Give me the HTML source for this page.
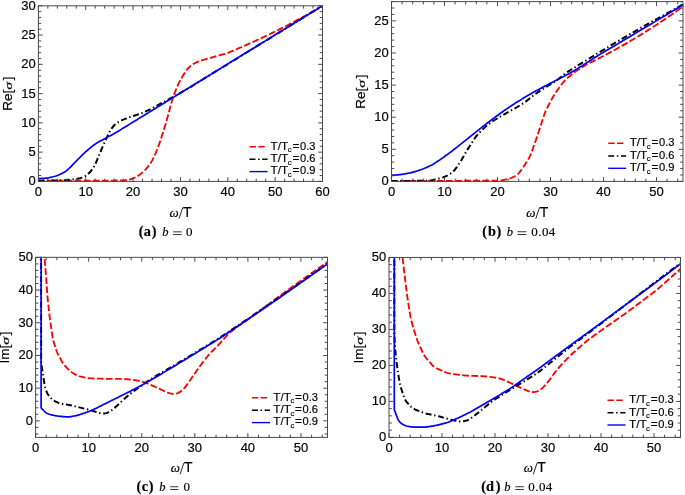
<!DOCTYPE html>
<html><head><meta charset="utf-8"><style>
html,body{margin:0;padding:0;background:#fff;}
body{width:685px;height:495px;overflow:hidden;font-family:"Liberation Sans",sans-serif;}
svg{display:block;will-change:transform;}
text{stroke:#000;stroke-width:0.18px;}
</style></head><body>
<svg width="685" height="495" viewBox="0 0 685 495">
<clipPath id="clipa"><rect x="37.90" y="5.30" width="285.10" height="176.60"/></clipPath>
<g clip-path="url(#clipa)" fill="none" stroke-linejoin="round">
<path d="M38.20 180.70L39.20 180.70L40.20 180.70L41.20 180.69L42.21 180.69L43.21 180.69L44.21 180.69L45.21 180.69L46.21 180.68L47.21 180.68L48.21 180.68L49.21 180.68L50.22 180.68L51.22 180.67L52.22 180.67L53.22 180.67L54.22 180.67L55.22 180.67L56.22 180.66L57.22 180.66L58.23 180.66L59.23 180.66L60.23 180.65L61.23 180.65L62.23 180.65L63.23 180.65L64.23 180.65L65.24 180.64L66.24 180.64L67.24 180.64L68.24 180.64L69.24 180.64L70.24 180.63L71.24 180.63L72.24 180.63L73.25 180.63L74.25 180.63L75.25 180.62L76.25 180.62L77.25 180.62L78.25 180.62L79.25 180.62L80.25 180.61L81.26 180.61L82.26 180.61L83.26 180.61L84.26 180.61L85.26 180.60L86.26 180.60L87.26 180.60L88.27 180.60L89.27 180.60L90.27 180.59L91.27 180.59L92.27 180.59L93.27 180.59L94.27 180.59L95.27 180.58L96.28 180.58L97.28 180.58L98.28 180.58L99.28 180.57L100.28 180.57L101.28 180.57L102.28 180.57L103.28 180.57L104.29 180.56L105.29 180.56L106.29 180.56L107.29 180.56L108.29 180.56L109.29 180.55L110.29 180.55L111.30 180.55L112.30 180.55L113.30 180.55L114.30 180.54L115.30 180.54L116.30 180.54L117.30 180.54L118.30 180.53L119.31 180.53L120.31 180.51L121.31 180.49L122.30 180.45L123.30 180.39L124.30 180.31L125.29 180.20L126.28 180.07L127.26 179.92L128.25 179.74L129.22 179.53L130.18 179.29L131.14 179.00L132.08 178.69L133.01 178.33L133.93 177.95L134.84 177.54L135.73 177.09L136.61 176.62L137.47 176.12L138.32 175.60L139.15 175.05L139.97 174.48L140.76 173.88L141.54 173.25L142.30 172.61L143.05 171.94L143.78 171.27L144.50 170.57L145.21 169.87L145.89 169.14L146.56 168.40L147.20 167.63L147.82 166.85L148.43 166.06L149.03 165.26L149.62 164.45L150.19 163.64L150.75 162.81L151.28 161.96L151.79 161.10L152.27 160.23L152.73 159.35L153.18 158.46L153.63 157.56L154.06 156.66L154.50 155.75L154.92 154.85L155.33 153.94L155.74 153.02L156.12 152.10L156.50 151.17L156.87 150.24L157.23 149.31L157.59 148.37L157.95 147.44L158.30 146.50L158.65 145.56L159.00 144.63L159.34 143.68L159.66 142.74L159.98 141.79L160.30 140.84L160.60 139.88L160.91 138.93L161.21 137.98L161.51 137.02L161.82 136.07L162.12 135.11L162.42 134.16L162.72 133.20L163.02 132.25L163.32 131.29L163.63 130.34L163.93 129.38L164.23 128.43L164.53 127.47L164.83 126.52L165.13 125.56L165.43 124.61L165.72 123.65L166.01 122.69L166.29 121.73L166.56 120.77L166.83 119.80L167.10 118.84L167.36 117.87L167.62 116.91L167.89 115.94L168.15 114.97L168.41 114.01L168.67 113.04L168.93 112.07L169.19 111.11L169.46 110.14L169.72 109.17L169.98 108.21L170.24 107.24L170.50 106.27L170.77 105.31L171.03 104.34L171.29 103.38L171.55 102.41L171.82 101.44L172.09 100.48L172.37 99.52L172.67 98.57L172.98 97.62L173.30 96.67L173.64 95.73L173.99 94.79L174.35 93.86L174.71 92.92L175.07 91.99L175.43 91.05L175.80 90.12L176.16 89.19L176.53 88.26L176.90 87.33L177.29 86.41L177.68 85.49L178.10 84.58L178.54 83.68L178.99 82.79L179.46 81.91L179.94 81.03L180.43 80.16L180.92 79.29L181.42 78.42L181.91 77.55L182.41 76.68L182.92 75.81L183.42 74.95L183.94 74.09L184.46 73.24L184.99 72.39L185.54 71.57L186.12 70.76L186.73 69.97L187.37 69.20L188.03 68.46L188.72 67.74L189.43 67.05L190.17 66.38L190.93 65.74L191.72 65.12L192.52 64.53L193.34 63.98L194.19 63.46L195.06 62.99L195.95 62.55L196.86 62.15L197.78 61.78L198.72 61.42L199.66 61.08L200.60 60.75L201.55 60.43L202.50 60.13L203.46 59.83L204.42 59.55L205.38 59.27L206.34 59.00L207.31 58.72L208.27 58.45L209.23 58.18L210.20 57.91L211.16 57.63L212.12 57.36L213.09 57.09L214.05 56.81L215.01 56.54L215.98 56.26L216.94 55.99L217.90 55.71L218.86 55.43L219.83 55.16L220.79 54.88L221.75 54.60L222.71 54.33L223.68 54.05L224.64 53.77L225.60 53.48L226.55 53.19L227.50 52.88L228.45 52.56L229.39 52.21L230.32 51.85L231.24 51.47L232.16 51.08L233.08 50.69L234.00 50.29L234.92 49.89L235.84 49.49L236.75 49.09L237.67 48.69L238.59 48.28L239.51 47.88L240.42 47.48L241.34 47.08L242.26 46.68L243.18 46.28L244.09 45.88L245.01 45.47L245.93 45.07L246.84 44.67L247.76 44.26L248.68 43.86L249.59 43.46L250.51 43.06L251.43 42.65L252.34 42.25L253.26 41.84L254.17 41.44L255.09 41.03L256.00 40.61L256.91 40.20L257.82 39.78L258.73 39.36L259.64 38.93L260.54 38.51L261.45 38.09L262.36 37.66L263.26 37.24L264.17 36.81L265.08 36.39L265.98 35.96L266.89 35.53L267.79 35.10L268.69 34.66L269.59 34.22L270.49 33.78L271.39 33.34L272.29 32.90L273.19 32.46L274.09 32.02L274.98 31.58L275.88 31.13L276.78 30.69L277.68 30.24L278.57 29.80L279.47 29.35L280.36 28.90L281.25 28.45L282.15 27.99L283.04 27.54L283.93 27.08L284.82 26.62L285.71 26.17L286.60 25.71L287.49 25.25L288.38 24.79L289.27 24.33L290.16 23.87L291.05 23.40L291.93 22.93L292.81 22.46L293.70 21.99L294.58 21.51L295.46 21.03L296.34 20.56L297.22 20.08L298.10 19.60L298.98 19.13L299.86 18.65L300.74 18.17L301.62 17.69L302.49 17.21L303.37 16.72L304.24 16.23L305.12 15.74L305.99 15.25L306.86 14.76L307.74 14.27L308.61 13.78L309.48 13.29L310.35 12.80L311.22 12.30L312.10 11.81L312.97 11.31L313.84 10.82L314.70 10.32L315.57 9.82L316.44 9.32L317.30 8.82L318.17 8.31L319.04 7.81L319.90 7.31L320.77 6.81L321.63 6.30L322.50 5.80" stroke="#f00" stroke-width="1.85" stroke-dasharray="6.7 2.4"/>
<path d="M38.20 180.70L39.20 180.68L40.20 180.67L41.20 180.65L42.20 180.63L43.20 180.62L44.21 180.60L45.21 180.59L46.21 180.57L47.21 180.55L48.21 180.54L49.21 180.52L50.21 180.50L51.21 180.49L52.21 180.47L53.21 180.45L54.21 180.44L55.21 180.42L56.22 180.40L57.22 180.39L58.22 180.37L59.22 180.36L60.22 180.34L61.22 180.32L62.22 180.30L63.22 180.28L64.22 180.25L65.22 180.20L66.22 180.15L67.21 180.07L68.21 179.97L69.20 179.86L70.20 179.74L71.19 179.61L72.18 179.48L73.17 179.35L74.16 179.21L75.15 179.07L76.14 178.93L77.13 178.77L78.11 178.60L79.09 178.40L80.05 178.16L81.01 177.89L81.95 177.58L82.88 177.24L83.79 176.84L84.67 176.41L85.52 175.91L86.33 175.36L87.12 174.77L87.87 174.13L88.60 173.45L89.31 172.76L89.99 172.03L90.65 171.28L91.29 170.52L91.90 169.73L92.49 168.93L93.07 168.11L93.61 167.28L94.13 166.43L94.62 165.57L95.07 164.68L95.49 163.78L95.89 162.86L96.28 161.94L96.66 161.02L97.04 160.09L97.41 159.16L97.79 158.24L98.17 157.31L98.55 156.38L98.92 155.46L99.31 154.53L99.69 153.61L100.08 152.68L100.47 151.76L100.87 150.84L101.27 149.93L101.67 149.01L102.08 148.10L102.49 147.18L102.89 146.27L103.30 145.35L103.71 144.44L104.12 143.53L104.53 142.61L104.94 141.70L105.35 140.79L105.76 139.88L106.18 138.96L106.59 138.05L107.01 137.14L107.42 136.23L107.84 135.32L108.27 134.42L108.70 133.52L109.15 132.63L109.62 131.74L110.11 130.88L110.63 130.02L111.17 129.19L111.73 128.36L112.31 127.56L112.92 126.77L113.56 126.02L114.24 125.31L114.96 124.63L115.71 124.00L116.50 123.40L117.31 122.82L118.14 122.27L118.99 121.75L119.85 121.25L120.73 120.79L121.63 120.36L122.54 119.95L123.46 119.57L124.39 119.19L125.32 118.83L126.25 118.46L127.18 118.10L128.12 117.75L129.06 117.40L130.00 117.06L130.94 116.73L131.89 116.41L132.84 116.09L133.79 115.79L134.75 115.48L135.70 115.18L136.65 114.88L137.60 114.57L138.55 114.25L139.50 113.92L140.44 113.58L141.37 113.21L142.29 112.84L143.21 112.44L144.13 112.04L145.05 111.64L145.96 111.23L146.87 110.82L147.78 110.41L148.69 109.99L149.60 109.57L150.50 109.13L151.39 108.68L152.28 108.22L153.16 107.75L154.04 107.27L154.92 106.79L155.79 106.31L156.67 105.82L157.55 105.33L158.42 104.85L159.30 104.36L160.17 103.88L161.05 103.40L161.93 102.93L162.81 102.45L163.70 101.98L164.58 101.51L165.46 101.04L166.35 100.57L167.23 100.10L168.12 99.63L169.00 99.16L169.88 98.69L170.76 98.21L171.64 97.74L172.52 97.26L173.40 96.78L174.28 96.30L175.16 95.82L176.03 95.33L176.91 94.85L177.79 94.37L178.66 93.88L179.53 93.39L180.41 92.90L181.28 92.40L182.14 91.90L183.01 91.40L183.87 90.90L184.74 90.39L185.60 89.89L186.47 89.38L187.33 88.88L188.19 88.37L189.05 87.86L189.91 87.34L190.77 86.83L191.63 86.31L192.48 85.78L193.33 85.26L194.19 84.74L195.04 84.21L195.89 83.69L196.74 83.16L197.60 82.64L198.45 82.12L199.30 81.59L200.15 81.07L201.01 80.54L201.86 80.02L202.71 79.49L203.56 78.97L204.42 78.44L205.27 77.92L206.12 77.39L206.97 76.87L207.83 76.35L208.68 75.82L209.53 75.30L210.39 74.77L211.24 74.25L212.09 73.72L212.94 73.20L213.80 72.67L214.65 72.15L215.50 71.63L216.35 71.10L217.21 70.58L218.06 70.05L218.91 69.53L219.76 69.00L220.62 68.48L221.47 67.95L222.32 67.43L223.17 66.90L224.03 66.38L224.88 65.86L225.73 65.33L226.58 64.81L227.44 64.28L228.29 63.76L229.14 63.23L229.99 62.71L230.85 62.18L231.70 61.66L232.55 61.14L233.41 60.61L234.26 60.09L235.11 59.56L235.96 59.04L236.82 58.51L237.67 57.99L238.52 57.46L239.37 56.94L240.23 56.41L241.08 55.89L241.93 55.37L242.78 54.84L243.64 54.32L244.49 53.79L245.34 53.27L246.19 52.74L247.05 52.22L247.90 51.69L248.75 51.17L249.60 50.65L250.46 50.12L251.31 49.60L252.16 49.07L253.01 48.55L253.87 48.02L254.72 47.50L255.57 46.97L256.42 46.45L257.28 45.92L258.13 45.40L258.98 44.88L259.84 44.35L260.69 43.83L261.54 43.30L262.39 42.78L263.25 42.25L264.10 41.73L264.95 41.20L265.80 40.68L266.66 40.16L267.51 39.63L268.36 39.11L269.21 38.58L270.07 38.06L270.92 37.53L271.77 37.01L272.62 36.48L273.48 35.96L274.33 35.43L275.18 34.91L276.03 34.39L276.89 33.86L277.74 33.34L278.59 32.81L279.44 32.29L280.30 31.76L281.15 31.24L282.00 30.71L282.85 30.19L283.71 29.66L284.56 29.14L285.41 28.62L286.27 28.09L287.12 27.57L287.97 27.04L288.82 26.52L289.68 25.99L290.53 25.47L291.38 24.94L292.23 24.42L293.09 23.90L293.94 23.37L294.79 22.85L295.64 22.32L296.50 21.80L297.35 21.27L298.20 20.75L299.05 20.22L299.91 19.70L300.76 19.17L301.61 18.65L302.46 18.13L303.32 17.60L304.17 17.08L305.02 16.55L305.87 16.03L306.73 15.50L307.58 14.98L308.43 14.45L309.28 13.93L310.14 13.41L310.99 12.88L311.84 12.36L312.70 11.83L313.55 11.31L314.40 10.78L315.25 10.26L316.11 9.73L316.96 9.21L317.81 8.68L318.66 8.16L319.52 7.64L320.37 7.11L321.22 6.59L322.07 6.06L322.50 5.80" stroke="#000" stroke-width="2" stroke-dasharray="6 2.7 1.4 2.7"/>
<path d="M38.20 178.60L39.20 178.55L40.20 178.49L41.20 178.43L42.20 178.38L43.20 178.32L44.19 178.25L45.19 178.18L46.18 178.08L47.17 177.97L48.16 177.82L49.14 177.65L50.12 177.45L51.10 177.24L52.07 177.01L53.04 176.78L54.01 176.53L54.97 176.27L55.93 175.98L56.87 175.66L57.80 175.31L58.72 174.93L59.62 174.51L60.53 174.08L61.42 173.64L62.31 173.19L63.20 172.73L64.07 172.25L64.93 171.75L65.77 171.22L66.57 170.65L67.35 170.04L68.09 169.39L68.82 168.71L69.53 168.01L70.23 167.30L70.93 166.58L71.62 165.86L72.32 165.14L73.02 164.42L73.71 163.70L74.41 162.99L75.11 162.27L75.81 161.55L76.51 160.84L77.21 160.13L77.92 159.42L78.62 158.71L79.33 158.00L80.04 157.29L80.74 156.58L81.45 155.87L82.16 155.16L82.87 154.46L83.58 153.76L84.30 153.06L85.03 152.37L85.76 151.70L86.51 151.03L87.27 150.38L88.03 149.74L88.80 149.10L89.57 148.46L90.35 147.83L91.12 147.20L91.90 146.57L92.68 145.94L93.47 145.33L94.28 144.74L95.09 144.17L95.92 143.62L96.77 143.09L97.63 142.58L98.50 142.08L99.37 141.59L100.24 141.10L101.12 140.62L101.99 140.14L102.87 139.65L103.75 139.18L104.63 138.70L105.51 138.23L106.40 137.76L107.28 137.29L108.17 136.83L109.05 136.36L109.94 135.90L110.83 135.43L111.71 134.96L112.59 134.48L113.47 134.00L114.34 133.51L115.20 133.00L116.06 132.49L116.92 131.98L117.77 131.46L118.63 130.94L119.48 130.41L120.33 129.89L121.19 129.37L122.04 128.84L122.89 128.32L123.75 127.79L124.60 127.27L125.45 126.75L126.31 126.22L127.16 125.70L128.01 125.18L128.86 124.65L129.72 124.13L130.57 123.61L131.42 123.08L132.28 122.56L133.13 122.04L133.98 121.51L134.84 120.99L135.69 120.46L136.54 119.94L137.39 119.42L138.25 118.89L139.10 118.37L139.95 117.85L140.81 117.32L141.66 116.80L142.51 116.28L143.37 115.75L144.22 115.23L145.07 114.71L145.92 114.18L146.78 113.66L147.63 113.13L148.48 112.61L149.34 112.09L150.19 111.56L151.04 111.04L151.90 110.52L152.75 109.99L153.60 109.47L154.45 108.95L155.31 108.42L156.16 107.90L157.01 107.37L157.87 106.85L158.72 106.33L159.57 105.80L160.43 105.28L161.28 104.76L162.13 104.23L162.98 103.71L163.84 103.19L164.69 102.66L165.54 102.14L166.40 101.62L167.25 101.09L168.10 100.57L168.96 100.04L169.81 99.52L170.66 99.00L171.52 98.47L172.37 97.95L173.22 97.43L174.07 96.90L174.93 96.38L175.78 95.86L176.63 95.33L177.49 94.81L178.34 94.29L179.19 93.76L180.05 93.24L180.90 92.71L181.75 92.19L182.60 91.67L183.46 91.14L184.31 90.62L185.16 90.10L186.02 89.57L186.87 89.05L187.72 88.53L188.58 88.00L189.43 87.48L190.28 86.96L191.13 86.43L191.99 85.91L192.84 85.38L193.69 84.86L194.55 84.34L195.40 83.81L196.25 83.29L197.11 82.77L197.96 82.24L198.81 81.72L199.66 81.20L200.52 80.67L201.37 80.15L202.22 79.63L203.08 79.10L203.93 78.58L204.78 78.05L205.64 77.53L206.49 77.01L207.34 76.48L208.20 75.96L209.05 75.44L209.90 74.91L210.75 74.39L211.61 73.87L212.46 73.34L213.31 72.82L214.17 72.29L215.02 71.77L215.87 71.25L216.73 70.72L217.58 70.20L218.43 69.68L219.28 69.15L220.14 68.63L220.99 68.11L221.84 67.58L222.70 67.06L223.55 66.54L224.40 66.01L225.26 65.49L226.11 64.96L226.96 64.44L227.81 63.92L228.67 63.39L229.52 62.87L230.37 62.35L231.23 61.82L232.08 61.30L232.93 60.78L233.79 60.25L234.64 59.73L235.49 59.21L236.34 58.68L237.20 58.16L238.05 57.63L238.90 57.11L239.76 56.59L240.61 56.06L241.46 55.54L242.32 55.02L243.17 54.49L244.02 53.97L244.88 53.45L245.73 52.92L246.58 52.40L247.43 51.88L248.29 51.35L249.14 50.83L249.99 50.30L250.85 49.78L251.70 49.26L252.55 48.73L253.41 48.21L254.26 47.69L255.11 47.16L255.96 46.64L256.82 46.12L257.67 45.59L258.52 45.07L259.38 44.55L260.23 44.02L261.08 43.50L261.94 42.97L262.79 42.45L263.64 41.93L264.49 41.40L265.35 40.88L266.20 40.36L267.05 39.83L267.91 39.31L268.76 38.79L269.61 38.26L270.47 37.74L271.32 37.21L272.17 36.69L273.02 36.17L273.88 35.64L274.73 35.12L275.58 34.60L276.44 34.07L277.29 33.55L278.14 33.03L279.00 32.50L279.85 31.98L280.70 31.46L281.55 30.93L282.41 30.41L283.26 29.88L284.11 29.36L284.97 28.84L285.82 28.31L286.67 27.79L287.53 27.27L288.38 26.74L289.23 26.22L290.09 25.70L290.94 25.17L291.79 24.65L292.64 24.13L293.50 23.60L294.35 23.08L295.20 22.55L296.06 22.03L296.91 21.51L297.76 20.98L298.62 20.46L299.47 19.94L300.32 19.41L301.17 18.89L302.03 18.37L302.88 17.84L303.73 17.32L304.59 16.80L305.44 16.27L306.29 15.75L307.15 15.22L308.00 14.70L308.85 14.18L309.70 13.65L310.56 13.13L311.41 12.61L312.26 12.08L313.12 11.56L313.97 11.04L314.82 10.51L315.68 9.99L316.53 9.47L317.38 8.94L318.23 8.42L319.09 7.89L319.94 7.37L320.79 6.85L321.65 6.32L322.50 5.80" stroke="#00f" stroke-width="1.7"/>
</g>
<path d="M38.40 181.40v-4.3M38.40 5.80v4.3M47.87 181.40v-2.8M47.87 5.80v2.8M57.34 181.40v-2.8M57.34 5.80v2.8M66.81 181.40v-2.8M66.81 5.80v2.8M76.28 181.40v-2.8M76.28 5.80v2.8M85.75 181.40v-4.3M85.75 5.80v4.3M95.22 181.40v-2.8M95.22 5.80v2.8M104.69 181.40v-2.8M104.69 5.80v2.8M114.16 181.40v-2.8M114.16 5.80v2.8M123.63 181.40v-2.8M123.63 5.80v2.8M133.10 181.40v-4.3M133.10 5.80v4.3M142.57 181.40v-2.8M142.57 5.80v2.8M152.04 181.40v-2.8M152.04 5.80v2.8M161.51 181.40v-2.8M161.51 5.80v2.8M170.98 181.40v-2.8M170.98 5.80v2.8M180.45 181.40v-4.3M180.45 5.80v4.3M189.92 181.40v-2.8M189.92 5.80v2.8M199.39 181.40v-2.8M199.39 5.80v2.8M208.86 181.40v-2.8M208.86 5.80v2.8M218.33 181.40v-2.8M218.33 5.80v2.8M227.80 181.40v-4.3M227.80 5.80v4.3M237.27 181.40v-2.8M237.27 5.80v2.8M246.74 181.40v-2.8M246.74 5.80v2.8M256.21 181.40v-2.8M256.21 5.80v2.8M265.68 181.40v-2.8M265.68 5.80v2.8M275.15 181.40v-4.3M275.15 5.80v4.3M284.62 181.40v-2.8M284.62 5.80v2.8M294.09 181.40v-2.8M294.09 5.80v2.8M303.56 181.40v-2.8M303.56 5.80v2.8M313.03 181.40v-2.8M313.03 5.80v2.8M322.50 181.40v-4.3M322.50 5.80v4.3M38.40 181.40h4.3M322.50 181.40h-4.3M38.40 175.55h2.8M322.50 175.55h-2.8M38.40 169.69h2.8M322.50 169.69h-2.8M38.40 163.84h2.8M322.50 163.84h-2.8M38.40 157.99h2.8M322.50 157.99h-2.8M38.40 152.13h4.3M322.50 152.13h-4.3M38.40 146.28h2.8M322.50 146.28h-2.8M38.40 140.43h2.8M322.50 140.43h-2.8M38.40 134.57h2.8M322.50 134.57h-2.8M38.40 128.72h2.8M322.50 128.72h-2.8M38.40 122.87h4.3M322.50 122.87h-4.3M38.40 117.01h2.8M322.50 117.01h-2.8M38.40 111.16h2.8M322.50 111.16h-2.8M38.40 105.31h2.8M322.50 105.31h-2.8M38.40 99.45h2.8M322.50 99.45h-2.8M38.40 93.60h4.3M322.50 93.60h-4.3M38.40 87.75h2.8M322.50 87.75h-2.8M38.40 81.89h2.8M322.50 81.89h-2.8M38.40 76.04h2.8M322.50 76.04h-2.8M38.40 70.19h2.8M322.50 70.19h-2.8M38.40 64.33h4.3M322.50 64.33h-4.3M38.40 58.48h2.8M322.50 58.48h-2.8M38.40 52.63h2.8M322.50 52.63h-2.8M38.40 46.77h2.8M322.50 46.77h-2.8M38.40 40.92h2.8M322.50 40.92h-2.8M38.40 35.07h4.3M322.50 35.07h-4.3M38.40 29.21h2.8M322.50 29.21h-2.8M38.40 23.36h2.8M322.50 23.36h-2.8M38.40 17.51h2.8M322.50 17.51h-2.8M38.40 11.65h2.8M322.50 11.65h-2.8M38.40 5.80h4.3M322.50 5.80h-4.3" stroke="#4a4a4a" stroke-width="1" fill="none"/>
<rect x="38.40" y="5.80" width="284.10" height="175.60" fill="none" stroke="#4a4a4a" stroke-width="1"/>
<g font-family="'Liberation Sans', sans-serif" font-size="13" fill="#000">
<text x="38.40" y="196.40" text-anchor="middle">0</text>
<text x="85.75" y="196.40" text-anchor="middle">10</text>
<text x="133.10" y="196.40" text-anchor="middle">20</text>
<text x="180.45" y="196.40" text-anchor="middle">30</text>
<text x="227.80" y="196.40" text-anchor="middle">40</text>
<text x="275.15" y="196.40" text-anchor="middle">50</text>
<text x="322.50" y="196.40" text-anchor="middle">60</text>
<text x="35.70" y="185.40" text-anchor="end">0</text>
<text x="35.70" y="156.13" text-anchor="end">5</text>
<text x="35.70" y="126.87" text-anchor="end">10</text>
<text x="35.70" y="97.60" text-anchor="end">15</text>
<text x="35.70" y="68.33" text-anchor="end">20</text>
<text x="35.70" y="39.07" text-anchor="end">25</text>
<text x="35.70" y="9.80" text-anchor="end">30</text>
</g>
<g transform="translate(11.90,110.85) rotate(-90)" font-family="'Liberation Sans', sans-serif" font-size="13.5"><text x="0" y="0">Re[</text><text transform="translate(21.03,0) scale(1.5,1)" font-family="'Liberation Serif', serif" font-style="italic" font-size="10.5">σ</text><text x="30.60" y="0">]</text></g>
<text x="169.57" y="216.80" font-family="'Liberation Serif', serif" font-style="italic" font-size="13">ω</text>
<path d="M179.00 218.70L182.80 207.30" stroke="#111" stroke-width="0.9"/>
<text x="182.89" y="216.80" font-family="'Liberation Sans', sans-serif" font-size="14">T</text>
<path d="M249.50 146.80h6.4M258.30 146.80h6.4" stroke="#f00" stroke-width="1.5" fill="none"/>
<text x="270.60" y="149.55" font-family="'Liberation Sans', sans-serif" font-size="11.8">T/T</text>
<text x="287.74" y="152.35" font-family="'Liberation Sans', sans-serif" font-size="7.7">c</text>
<text x="292.48" y="149.55" font-family="'Liberation Sans', sans-serif" font-size="11.8">=</text>
<text x="299.98" y="149.55" font-family="'Liberation Sans', sans-serif" font-size="11.1">0.3</text>
<path d="M249.50 159.20h6M258.10 159.20h1.5M262.20 159.20H267.60" stroke="#000" stroke-width="1.5" fill="none"/>
<text x="270.60" y="161.95" font-family="'Liberation Sans', sans-serif" font-size="11.8">T/T</text>
<text x="287.74" y="164.75" font-family="'Liberation Sans', sans-serif" font-size="7.7">c</text>
<text x="292.48" y="161.95" font-family="'Liberation Sans', sans-serif" font-size="11.8">=</text>
<text x="299.98" y="161.95" font-family="'Liberation Sans', sans-serif" font-size="11.1">0.6</text>
<path d="M249.50 171.60H267.60" stroke="#00f" stroke-width="1.4" fill="none"/>
<text x="270.60" y="174.35" font-family="'Liberation Sans', sans-serif" font-size="11.8">T/T</text>
<text x="287.74" y="177.15" font-family="'Liberation Sans', sans-serif" font-size="7.7">c</text>
<text x="292.48" y="174.35" font-family="'Liberation Sans', sans-serif" font-size="11.8">=</text>
<text x="299.98" y="174.35" font-family="'Liberation Sans', sans-serif" font-size="11.1">0.9</text>
<text x="138.87" y="236.00" font-family="'Liberation Serif', serif" font-size="14.3" font-weight="bold" font-style="normal">(</text>
<text x="143.84" y="236.00" font-family="'Liberation Serif', serif" font-size="14.3" font-weight="bold" font-style="normal">a</text>
<text x="151.74" y="236.00" font-family="'Liberation Serif', serif" font-size="14.3" font-weight="bold" font-style="normal">)</text>
<text x="162.14" y="236.00" font-family="'Liberation Serif', serif" font-size="12.5" font-weight="normal" font-style="italic">b</text>
<rect x="173.10" y="231.45" width="8.60" height="0.85" fill="#111"/>
<rect x="173.10" y="234.20" width="8.60" height="0.85" fill="#111"/>
<text x="186.00" y="236.00" font-family="'Liberation Serif', serif" font-size="13" font-weight="normal" font-style="normal">0</text>
<clipPath id="clipb"><rect x="391.00" y="1.10" width="292.50" height="180.80"/></clipPath>
<g clip-path="url(#clipb)" fill="none" stroke-linejoin="round">
<path d="M391.40 181.00L392.40 181.00L393.40 180.99L394.40 180.99L395.40 180.99L396.40 180.99L397.40 180.98L398.40 180.98L399.40 180.98L400.40 180.97L401.40 180.97L402.40 180.97L403.40 180.96L404.40 180.96L405.40 180.96L406.40 180.96L407.40 180.95L408.40 180.95L409.40 180.95L410.40 180.94L411.40 180.94L412.40 180.94L413.40 180.94L414.40 180.93L415.40 180.93L416.40 180.93L417.40 180.92L418.40 180.92L419.40 180.92L420.41 180.91L421.41 180.91L422.41 180.91L423.41 180.91L424.41 180.90L425.41 180.90L426.41 180.90L427.41 180.89L428.41 180.89L429.41 180.89L430.41 180.88L431.41 180.88L432.41 180.88L433.41 180.88L434.41 180.87L435.41 180.87L436.41 180.87L437.41 180.86L438.41 180.86L439.41 180.86L440.41 180.86L441.41 180.85L442.41 180.85L443.41 180.85L444.41 180.84L445.41 180.84L446.41 180.84L447.41 180.83L448.41 180.83L449.41 180.83L450.41 180.83L451.41 180.82L452.41 180.82L453.41 180.82L454.41 180.81L455.41 180.81L456.41 180.81L457.41 180.81L458.41 180.80L459.41 180.80L460.41 180.80L461.41 180.79L462.41 180.79L463.41 180.79L464.41 180.78L465.41 180.78L466.41 180.78L467.41 180.78L468.41 180.77L469.41 180.77L470.41 180.77L471.41 180.76L472.41 180.76L473.41 180.76L474.41 180.75L475.41 180.75L476.41 180.75L477.42 180.75L478.42 180.74L479.42 180.74L480.42 180.74L481.42 180.73L482.42 180.73L483.42 180.73L484.42 180.73L485.42 180.72L486.42 180.72L487.42 180.72L488.42 180.71L489.42 180.71L490.42 180.71L491.42 180.70L492.42 180.70L493.42 180.70L494.42 180.69L495.42 180.69L496.42 180.67L497.41 180.65L498.41 180.61L499.40 180.54L500.39 180.44L501.38 180.31L502.37 180.16L503.35 179.98L504.33 179.79L505.31 179.59L506.29 179.39L507.26 179.17L508.22 178.92L509.18 178.65L510.12 178.34L511.05 178.00L511.97 177.61L512.87 177.20L513.77 176.77L514.65 176.31L515.51 175.82L516.34 175.30L517.13 174.72L517.87 174.10L518.56 173.41L519.21 172.68L519.83 171.91L520.44 171.12L521.03 170.32L521.62 169.51L522.20 168.70L522.78 167.88L523.35 167.06L523.91 166.24L524.46 165.40L525.00 164.56L525.53 163.71L526.06 162.86L526.58 162.01L527.09 161.15L527.61 160.29L528.12 159.43L528.62 158.57L529.12 157.70L529.59 156.83L530.03 155.94L530.45 155.03L530.84 154.12L531.22 153.19L531.57 152.26L531.92 151.32L532.26 150.38L532.60 149.44L532.94 148.50L533.28 147.56L533.62 146.62L533.96 145.68L534.30 144.74L534.63 143.79L534.96 142.85L535.29 141.91L535.62 140.96L535.94 140.01L536.26 139.07L536.58 138.12L536.89 137.17L537.21 136.22L537.52 135.27L537.84 134.32L538.15 133.37L538.47 132.42L538.78 131.47L539.09 130.52L539.41 129.57L539.72 128.62L540.04 127.67L540.35 126.72L540.66 125.77L540.97 124.82L541.28 123.87L541.59 122.92L541.90 121.97L542.21 121.02L542.52 120.07L542.83 119.11L543.13 118.16L543.44 117.21L543.75 116.26L544.07 115.31L544.38 114.36L544.71 113.42L545.06 112.49L545.42 111.56L545.82 110.64L546.24 109.74L546.68 108.84L547.13 107.95L547.59 107.07L548.06 106.19L548.53 105.30L549.01 104.42L549.48 103.54L549.95 102.66L550.42 101.77L550.89 100.89L551.36 100.01L551.83 99.13L552.31 98.25L552.79 97.37L553.27 96.50L553.78 95.64L554.30 94.78L554.83 93.94L555.38 93.11L555.95 92.28L556.52 91.46L557.09 90.65L557.67 89.83L558.26 89.02L558.84 88.21L559.43 87.40L560.02 86.59L560.62 85.79L561.21 84.99L561.81 84.19L562.42 83.39L563.04 82.61L563.67 81.84L564.32 81.09L565.00 80.36L565.70 79.65L566.42 78.96L567.16 78.30L567.92 77.65L568.68 77.00L569.45 76.36L570.22 75.72L570.99 75.09L571.76 74.45L572.54 73.82L573.31 73.19L574.10 72.57L574.89 71.96L575.70 71.37L576.51 70.80L577.34 70.24L578.17 69.69L579.01 69.14L579.85 68.60L580.70 68.07L581.54 67.53L582.39 67.00L583.24 66.47L584.09 65.95L584.95 65.44L585.81 64.94L586.69 64.45L587.57 63.99L588.46 63.53L589.35 63.08L590.25 62.64L591.14 62.20L592.04 61.76L592.94 61.32L593.84 60.88L594.74 60.44L595.63 59.99L596.53 59.54L597.42 59.09L598.31 58.64L599.20 58.18L600.09 57.72L600.98 57.26L601.87 56.80L602.75 56.34L603.64 55.88L604.53 55.42L605.41 54.96L606.30 54.49L607.18 54.02L608.06 53.55L608.95 53.08L609.83 52.60L610.70 52.12L611.58 51.65L612.46 51.17L613.34 50.69L614.22 50.21L615.09 49.73L615.97 49.25L616.85 48.76L617.72 48.28L618.59 47.79L619.47 47.30L620.34 46.81L621.21 46.32L622.08 45.83L622.95 45.33L623.82 44.84L624.69 44.34L625.55 43.84L626.42 43.34L627.28 42.84L628.15 42.34L629.01 41.83L629.87 41.33L630.74 40.82L631.60 40.32L632.46 39.81L633.33 39.30L634.19 38.79L635.04 38.28L635.90 37.76L636.75 37.24L637.61 36.72L638.46 36.19L639.31 35.67L640.16 35.14L641.01 34.61L641.86 34.08L642.71 33.55L643.55 33.02L644.40 32.49L645.25 31.96L646.10 31.43L646.94 30.89L647.79 30.36L648.63 29.82L649.47 29.28L650.31 28.74L651.16 28.20L652.00 27.67L652.84 27.13L653.68 26.59L654.52 26.04L655.36 25.50L656.20 24.96L657.04 24.41L657.87 23.86L658.71 23.31L659.54 22.75L660.37 22.20L661.21 21.64L662.04 21.09L662.87 20.53L663.70 19.97L664.53 19.42L665.36 18.86L666.19 18.30L667.02 17.74L667.84 17.17L668.67 16.61L669.49 16.04L670.31 15.47L671.13 14.90L671.95 14.33L672.78 13.76L673.60 13.19L674.42 12.62L675.24 12.04L676.06 11.47L676.88 10.90L677.70 10.32L678.51 9.75L679.33 9.17L680.15 8.59L680.96 8.01L681.78 7.44L682.60 6.86L683.41 6.28L683.82 5.99" stroke="#f00" stroke-width="1.85" stroke-dasharray="6.7 2.4"/>
<path d="M391.40 181.00L392.40 180.99L393.40 180.99L394.40 180.98L395.40 180.97L396.40 180.97L397.40 180.96L398.40 180.95L399.40 180.95L400.40 180.94L401.40 180.93L402.41 180.93L403.41 180.92L404.41 180.91L405.41 180.91L406.41 180.90L407.41 180.89L408.41 180.89L409.41 180.88L410.41 180.87L411.41 180.87L412.41 180.86L413.41 180.85L414.41 180.85L415.41 180.84L416.41 180.83L417.41 180.83L418.41 180.82L419.41 180.81L420.41 180.81L421.41 180.80L422.41 180.79L423.42 180.79L424.42 180.78L425.42 180.77L426.42 180.75L427.41 180.73L428.41 180.68L429.40 180.61L430.39 180.50L431.38 180.36L432.36 180.19L433.33 179.99L434.31 179.77L435.28 179.54L436.25 179.29L437.22 179.05L438.19 178.80L439.15 178.54L440.12 178.27L441.07 177.99L442.02 177.68L442.97 177.36L443.90 177.01L444.83 176.64L445.75 176.25L446.65 175.84L447.54 175.39L448.41 174.91L449.26 174.39L450.09 173.85L450.90 173.27L451.70 172.68L452.47 172.06L453.22 171.41L453.93 170.73L454.61 170.01L455.25 169.25L455.85 168.47L456.44 167.66L457.01 166.85L457.58 166.02L458.14 165.19L458.69 164.36L459.25 163.53L459.80 162.69L460.34 161.85L460.87 161.01L461.38 160.15L461.89 159.29L462.39 158.42L462.88 157.55L463.37 156.68L463.85 155.80L464.34 154.93L464.82 154.05L465.31 153.18L465.81 152.31L466.31 151.45L466.83 150.60L467.36 149.75L467.91 148.91L468.46 148.08L469.02 147.25L469.57 146.42L470.11 145.58L470.65 144.73L471.18 143.88L471.70 143.03L472.23 142.18L472.76 141.34L473.30 140.49L473.85 139.66L474.41 138.83L474.98 138.01L475.56 137.20L476.16 136.40L476.77 135.61L477.41 134.85L478.07 134.10L478.75 133.38L479.45 132.67L480.16 131.96L480.87 131.26L481.58 130.56L482.28 129.85L482.98 129.13L483.68 128.42L484.39 127.72L485.12 127.04L485.86 126.38L486.63 125.75L487.41 125.13L488.20 124.52L489.00 123.92L489.80 123.32L490.61 122.73L491.42 122.15L492.24 121.57L493.07 121.01L493.90 120.46L494.74 119.92L495.59 119.39L496.44 118.86L497.29 118.34L498.15 117.83L499.01 117.31L499.87 116.80L500.73 116.30L501.60 115.80L502.47 115.30L503.34 114.81L504.21 114.32L505.09 113.84L505.97 113.35L506.84 112.87L507.72 112.39L508.59 111.90L509.47 111.42L510.34 110.93L511.22 110.45L512.09 109.96L512.97 109.47L513.84 108.99L514.71 108.50L515.58 108.00L516.45 107.51L517.31 107.00L518.17 106.49L519.03 105.98L519.88 105.45L520.74 104.93L521.58 104.40L522.43 103.86L523.27 103.32L524.10 102.77L524.92 102.20L525.73 101.61L526.53 101.01L527.31 100.40L528.10 99.78L528.88 99.15L529.66 98.52L530.44 97.90L531.22 97.27L532.01 96.65L532.80 96.04L533.59 95.44L534.39 94.84L535.20 94.25L536.01 93.66L536.82 93.08L537.64 92.50L538.45 91.92L539.27 91.34L540.10 90.78L540.93 90.22L541.77 89.68L542.61 89.14L543.46 88.62L544.32 88.10L545.17 87.58L546.03 87.07L546.89 86.55L547.75 86.04L548.60 85.52L549.45 84.99L550.30 84.47L551.15 83.93L552.00 83.40L552.84 82.87L553.69 82.33L554.53 81.78L555.36 81.23L556.19 80.67L557.00 80.10L557.81 79.51L558.60 78.90L559.38 78.28L560.16 77.65L560.93 77.01L561.71 76.38L562.48 75.75L563.26 75.12L564.04 74.50L564.84 73.90L565.65 73.31L566.47 72.74L567.29 72.18L568.13 71.63L568.97 71.08L569.81 70.54L570.65 70.00L571.49 69.46L572.33 68.91L573.17 68.38L574.02 67.84L574.86 67.30L575.71 66.77L576.56 66.24L577.41 65.72L578.26 65.19L579.12 64.67L579.97 64.15L580.82 63.63L581.68 63.11L582.53 62.59L583.39 62.07L584.24 61.55L585.10 61.02L585.95 60.50L586.80 59.98L587.66 59.46L588.51 58.94L589.37 58.42L590.22 57.90L591.08 57.38L591.93 56.86L592.78 56.34L593.64 55.82L594.49 55.30L595.35 54.78L596.20 54.25L597.06 53.73L597.91 53.21L598.76 52.69L599.62 52.17L600.47 51.65L601.33 51.13L602.18 50.61L603.04 50.09L603.89 49.57L604.75 49.05L605.60 48.53L606.46 48.02L607.32 47.50L608.18 46.99L609.04 46.49L609.91 45.98L610.77 45.48L611.63 44.97L612.50 44.47L613.36 43.97L614.23 43.46L615.09 42.96L615.96 42.45L616.82 41.95L617.68 41.44L618.54 40.93L619.40 40.42L620.26 39.91L621.12 39.40L621.98 38.89L622.84 38.38L623.71 37.87L624.57 37.36L625.43 36.85L626.29 36.35L627.16 35.84L628.02 35.34L628.88 34.83L629.75 34.33L630.61 33.83L631.48 33.32L632.34 32.82L633.21 32.32L634.07 31.81L634.94 31.31L635.80 30.81L636.67 30.31L637.53 29.81L638.40 29.30L639.27 28.80L640.13 28.30L641.00 27.80L641.86 27.30L642.73 26.80L643.60 26.30L644.46 25.80L645.33 25.31L646.20 24.81L647.08 24.32L647.95 23.84L648.83 23.35L649.70 22.87L650.58 22.39L651.46 21.91L652.33 21.43L653.21 20.95L654.09 20.46L654.97 19.98L655.84 19.50L656.72 19.02L657.60 18.54L658.47 18.05L659.35 17.57L660.22 17.09L661.10 16.60L661.98 16.12L662.85 15.64L663.73 15.15L664.60 14.67L665.48 14.19L666.36 13.71L667.23 13.22L668.11 12.74L668.99 12.26L669.86 11.78L670.74 11.30L671.62 10.82L672.50 10.33L673.37 9.85L674.25 9.37L675.13 8.89L676.00 8.40L676.87 7.92L677.75 7.42L678.62 6.93L679.49 6.44L680.35 5.94L681.22 5.44L682.09 4.94L682.95 4.44L683.82 3.94" stroke="#000" stroke-width="2" stroke-dasharray="6 2.7 1.4 2.7"/>
<path d="M391.40 175.49L392.40 175.39L393.39 175.29L394.39 175.19L395.39 175.10L396.38 175.00L397.38 174.90L398.37 174.79L399.37 174.68L400.36 174.56L401.35 174.43L402.35 174.29L403.33 174.13L404.32 173.97L405.31 173.80L406.30 173.63L407.28 173.45L408.26 173.27L409.25 173.08L410.23 172.88L411.20 172.66L412.17 172.42L413.14 172.16L414.10 171.89L415.06 171.61L416.02 171.32L416.98 171.02L417.93 170.73L418.89 170.42L419.84 170.11L420.78 169.79L421.72 169.44L422.65 169.08L423.58 168.71L424.50 168.32L425.42 167.92L426.33 167.52L427.25 167.11L428.16 166.70L429.07 166.28L429.98 165.85L430.87 165.41L431.75 164.95L432.63 164.46L433.49 163.95L434.34 163.43L435.18 162.89L436.02 162.35L436.86 161.81L437.70 161.26L438.54 160.71L439.37 160.16L440.21 159.60L441.04 159.04L441.86 158.48L442.68 157.90L443.50 157.32L444.31 156.73L445.11 156.14L445.92 155.54L446.72 154.95L447.53 154.35L448.33 153.75L449.14 153.16L449.94 152.56L450.74 151.96L451.54 151.35L452.33 150.75L453.13 150.14L453.92 149.52L454.71 148.91L455.50 148.29L456.28 147.67L457.07 147.05L457.85 146.43L458.64 145.80L459.42 145.18L460.21 144.56L460.99 143.94L461.78 143.32L462.56 142.70L463.35 142.07L464.13 141.45L464.91 140.82L465.69 140.20L466.47 139.57L467.25 138.94L468.04 138.32L468.82 137.69L469.60 137.06L470.38 136.43L471.16 135.81L471.94 135.18L472.72 134.56L473.50 133.93L474.29 133.30L475.07 132.68L475.85 132.06L476.63 131.43L477.42 130.81L478.20 130.18L478.98 129.56L479.77 128.93L480.55 128.31L481.33 127.69L482.12 127.07L482.90 126.44L483.69 125.83L484.48 125.21L485.27 124.60L486.07 123.99L486.86 123.38L487.66 122.77L488.45 122.16L489.25 121.56L490.05 120.95L490.85 120.35L491.64 119.74L492.44 119.14L493.24 118.53L494.04 117.93L494.85 117.33L495.65 116.74L496.46 116.15L497.27 115.56L498.08 114.98L498.89 114.39L499.71 113.81L500.52 113.22L501.33 112.64L502.15 112.05L502.96 111.47L503.78 110.89L504.60 110.32L505.42 109.74L506.24 109.18L507.07 108.61L507.90 108.05L508.73 107.50L509.57 106.94L510.40 106.39L511.24 105.83L512.07 105.28L512.91 104.73L513.74 104.18L514.58 103.63L515.42 103.08L516.26 102.54L517.11 102.01L517.96 101.48L518.81 100.95L519.66 100.43L520.52 99.91L521.37 99.38L522.23 98.86L523.08 98.34L523.94 97.82L524.80 97.31L525.66 96.79L526.52 96.28L527.38 95.78L528.25 95.28L529.12 94.78L529.99 94.29L530.86 93.79L531.74 93.30L532.61 92.81L533.48 92.32L534.36 91.84L535.23 91.35L536.11 90.86L536.98 90.38L537.86 89.90L538.74 89.42L539.62 88.95L540.51 88.47L541.39 88.00L542.27 87.53L543.16 87.06L544.04 86.59L544.93 86.13L545.81 85.66L546.70 85.19L547.59 84.72L548.47 84.26L549.36 83.80L550.25 83.34L551.14 82.88L552.03 82.42L552.92 81.97L553.81 81.51L554.70 81.05L555.60 80.59L556.49 80.14L557.38 79.68L558.27 79.22L559.16 78.76L560.05 78.30L560.94 77.84L561.82 77.38L562.71 76.92L563.60 76.46L564.49 76.00L565.38 75.53L566.27 75.07L567.15 74.60L568.03 74.13L568.91 73.65L569.79 73.17L570.66 72.67L571.53 72.17L572.39 71.67L573.26 71.16L574.12 70.65L574.98 70.14L575.84 69.63L576.70 69.12L577.56 68.61L578.42 68.09L579.27 67.57L580.13 67.04L580.97 66.51L581.82 65.97L582.66 65.43L583.50 64.89L584.34 64.35L585.18 63.80L586.02 63.25L586.86 62.71L587.70 62.16L588.54 61.62L589.38 61.07L590.22 60.53L591.06 59.98L591.90 59.43L592.74 58.89L593.58 58.35L594.42 57.80L595.27 57.27L596.11 56.73L596.96 56.20L597.82 55.68L598.67 55.16L599.53 54.64L600.39 54.13L601.25 53.62L602.11 53.10L602.97 52.59L603.83 52.08L604.69 51.56L605.55 51.05L606.41 50.54L607.27 50.03L608.13 49.52L608.99 49.00L609.85 48.49L610.71 47.98L611.57 47.47L612.43 46.95L613.29 46.44L614.15 45.93L615.01 45.42L615.88 44.90L616.74 44.39L617.60 43.88L618.46 43.37L619.32 42.85L620.18 42.34L621.04 41.83L621.90 41.32L622.76 40.80L623.62 40.29L624.48 39.78L625.34 39.27L626.20 38.75L627.06 38.24L627.92 37.73L628.78 37.22L629.64 36.71L630.50 36.20L631.36 35.68L632.22 35.17L633.09 34.66L633.95 34.15L634.81 33.64L635.67 33.13L636.53 32.61L637.39 32.10L638.25 31.59L639.11 31.08L639.97 30.57L640.83 30.06L641.69 29.55L642.55 29.03L643.42 28.52L644.28 28.01L645.14 27.50L646.00 26.99L646.86 26.48L647.72 25.96L648.58 25.45L649.44 24.94L650.30 24.43L651.16 23.92L652.02 23.41L652.88 22.89L653.74 22.38L654.60 21.87L655.47 21.36L656.33 20.84L657.19 20.33L658.04 19.82L658.90 19.30L659.76 18.79L660.62 18.28L661.48 17.76L662.34 17.25L663.20 16.73L664.06 16.22L664.92 15.70L665.78 15.19L666.64 14.67L667.50 14.16L668.35 13.65L669.21 13.13L670.07 12.62L670.93 12.10L671.79 11.59L672.65 11.07L673.51 10.56L674.37 10.04L675.23 9.53L676.09 9.02L676.95 8.50L677.80 7.99L678.66 7.47L679.52 6.96L680.38 6.44L681.24 5.93L682.10 5.41L682.96 4.90L683.82 4.38" stroke="#00f" stroke-width="1.7"/>
</g>
<path d="M391.50 181.40v-4.3M391.50 1.60v4.3M402.10 181.40v-2.8M402.10 1.60v2.8M412.70 181.40v-2.8M412.70 1.60v2.8M423.30 181.40v-2.8M423.30 1.60v2.8M433.90 181.40v-2.8M433.90 1.60v2.8M444.50 181.40v-4.3M444.50 1.60v4.3M455.10 181.40v-2.8M455.10 1.60v2.8M465.70 181.40v-2.8M465.70 1.60v2.8M476.30 181.40v-2.8M476.30 1.60v2.8M486.90 181.40v-2.8M486.90 1.60v2.8M497.50 181.40v-4.3M497.50 1.60v4.3M508.10 181.40v-2.8M508.10 1.60v2.8M518.70 181.40v-2.8M518.70 1.60v2.8M529.30 181.40v-2.8M529.30 1.60v2.8M539.90 181.40v-2.8M539.90 1.60v2.8M550.50 181.40v-4.3M550.50 1.60v4.3M561.10 181.40v-2.8M561.10 1.60v2.8M571.70 181.40v-2.8M571.70 1.60v2.8M582.30 181.40v-2.8M582.30 1.60v2.8M592.90 181.40v-2.8M592.90 1.60v2.8M603.50 181.40v-4.3M603.50 1.60v4.3M614.10 181.40v-2.8M614.10 1.60v2.8M624.70 181.40v-2.8M624.70 1.60v2.8M635.30 181.40v-2.8M635.30 1.60v2.8M645.90 181.40v-2.8M645.90 1.60v2.8M656.50 181.40v-4.3M656.50 1.60v4.3M667.10 181.40v-2.8M667.10 1.60v2.8M677.70 181.40v-2.8M677.70 1.60v2.8M391.50 181.40h4.3M683.00 181.40h-4.3M391.50 174.98h2.8M683.00 174.98h-2.8M391.50 168.56h2.8M683.00 168.56h-2.8M391.50 162.14h2.8M683.00 162.14h-2.8M391.50 155.71h2.8M683.00 155.71h-2.8M391.50 149.29h4.3M683.00 149.29h-4.3M391.50 142.87h2.8M683.00 142.87h-2.8M391.50 136.45h2.8M683.00 136.45h-2.8M391.50 130.03h2.8M683.00 130.03h-2.8M391.50 123.61h2.8M683.00 123.61h-2.8M391.50 117.19h4.3M683.00 117.19h-4.3M391.50 110.76h2.8M683.00 110.76h-2.8M391.50 104.34h2.8M683.00 104.34h-2.8M391.50 97.92h2.8M683.00 97.92h-2.8M391.50 91.50h2.8M683.00 91.50h-2.8M391.50 85.08h4.3M683.00 85.08h-4.3M391.50 78.66h2.8M683.00 78.66h-2.8M391.50 72.24h2.8M683.00 72.24h-2.8M391.50 65.81h2.8M683.00 65.81h-2.8M391.50 59.39h2.8M683.00 59.39h-2.8M391.50 52.97h4.3M683.00 52.97h-4.3M391.50 46.55h2.8M683.00 46.55h-2.8M391.50 40.13h2.8M683.00 40.13h-2.8M391.50 33.71h2.8M683.00 33.71h-2.8M391.50 27.29h2.8M683.00 27.29h-2.8M391.50 20.86h4.3M683.00 20.86h-4.3M391.50 14.44h2.8M683.00 14.44h-2.8M391.50 8.02h2.8M683.00 8.02h-2.8M391.50 1.60h2.8M683.00 1.60h-2.8" stroke="#4a4a4a" stroke-width="1" fill="none"/>
<rect x="391.50" y="1.60" width="291.50" height="179.80" fill="none" stroke="#4a4a4a" stroke-width="1"/>
<g font-family="'Liberation Sans', sans-serif" font-size="13" fill="#000">
<text x="391.50" y="196.40" text-anchor="middle">0</text>
<text x="444.50" y="196.40" text-anchor="middle">10</text>
<text x="497.50" y="196.40" text-anchor="middle">20</text>
<text x="550.50" y="196.40" text-anchor="middle">30</text>
<text x="603.50" y="196.40" text-anchor="middle">40</text>
<text x="656.50" y="196.40" text-anchor="middle">50</text>
<text x="388.80" y="185.40" text-anchor="end">0</text>
<text x="388.80" y="153.29" text-anchor="end">5</text>
<text x="388.80" y="121.19" text-anchor="end">10</text>
<text x="388.80" y="89.08" text-anchor="end">15</text>
<text x="388.80" y="56.97" text-anchor="end">20</text>
<text x="388.80" y="24.86" text-anchor="end">25</text>
</g>
<g transform="translate(365.00,108.75) rotate(-90)" font-family="'Liberation Sans', sans-serif" font-size="13.5"><text x="0" y="0">Re[</text><text transform="translate(21.03,0) scale(1.5,1)" font-family="'Liberation Serif', serif" font-style="italic" font-size="10.5">σ</text><text x="30.60" y="0">]</text></g>
<text x="526.37" y="216.80" font-family="'Liberation Serif', serif" font-style="italic" font-size="13">ω</text>
<path d="M535.80 218.70L539.60 207.30" stroke="#111" stroke-width="0.9"/>
<text x="539.69" y="216.80" font-family="'Liberation Sans', sans-serif" font-size="14">T</text>
<path d="M608.20 143.36h6.4M617.00 143.36h6.4" stroke="#f00" stroke-width="1.5" fill="none"/>
<text x="629.64" y="146.11" font-family="'Liberation Sans', sans-serif" font-size="11.8">T/T</text>
<text x="646.78" y="148.91" font-family="'Liberation Sans', sans-serif" font-size="7.7">c</text>
<text x="651.52" y="146.11" font-family="'Liberation Sans', sans-serif" font-size="11.8">=</text>
<text x="659.02" y="146.11" font-family="'Liberation Sans', sans-serif" font-size="11.1">0.3</text>
<path d="M608.20 155.90h6M616.80 155.90h1.5M620.90 155.90H626.20" stroke="#000" stroke-width="1.5" fill="none"/>
<text x="629.64" y="158.65" font-family="'Liberation Sans', sans-serif" font-size="11.8">T/T</text>
<text x="646.78" y="161.45" font-family="'Liberation Sans', sans-serif" font-size="7.7">c</text>
<text x="651.52" y="158.65" font-family="'Liberation Sans', sans-serif" font-size="11.8">=</text>
<text x="659.02" y="158.65" font-family="'Liberation Sans', sans-serif" font-size="11.1">0.6</text>
<path d="M608.20 168.30H626.20" stroke="#00f" stroke-width="1.4" fill="none"/>
<text x="629.64" y="171.05" font-family="'Liberation Sans', sans-serif" font-size="11.8">T/T</text>
<text x="646.78" y="173.85" font-family="'Liberation Sans', sans-serif" font-size="7.7">c</text>
<text x="651.52" y="171.05" font-family="'Liberation Sans', sans-serif" font-size="11.8">=</text>
<text x="659.02" y="171.05" font-family="'Liberation Sans', sans-serif" font-size="11.1">0.9</text>
<text x="482.27" y="235.90" font-family="'Liberation Serif', serif" font-size="14.3" font-weight="bold" font-style="normal">(</text>
<text x="487.92" y="235.90" font-family="'Liberation Serif', serif" font-size="14.3" font-weight="bold" font-style="normal">b</text>
<text x="496.44" y="235.90" font-family="'Liberation Serif', serif" font-size="14.3" font-weight="bold" font-style="normal">)</text>
<text x="506.69" y="235.90" font-family="'Liberation Serif', serif" font-size="12.5" font-weight="normal" font-style="italic">b</text>
<rect x="517.40" y="231.35" width="9.00" height="0.85" fill="#111"/>
<rect x="517.40" y="234.10" width="9.00" height="0.85" fill="#111"/>
<text x="531.20" y="235.90" font-family="'Liberation Serif', serif" font-size="13" font-weight="normal" font-style="normal">0</text>
<text x="538.14" y="235.90" font-family="'Liberation Serif', serif" font-size="13" font-weight="normal" font-style="normal">.</text>
<text x="542.00" y="235.90" font-family="'Liberation Serif', serif" font-size="13" font-weight="normal" font-style="normal">0</text>
<text x="548.75" y="235.90" font-family="'Liberation Serif', serif" font-size="13" font-weight="normal" font-style="normal">4</text>
<clipPath id="clipc"><rect x="35.10" y="256.85" width="292.90" height="181.05"/></clipPath>
<g clip-path="url(#clipc)" fill="none" stroke-linejoin="round">
<path d="M44.29 240.99L44.30 241.99L44.31 242.99L44.33 243.99L44.34 244.99L44.35 245.99L44.37 246.99L44.38 247.99L44.39 248.99L44.41 249.99L44.42 250.99L44.43 251.99L44.45 252.99L44.47 253.99L44.49 254.99L44.52 255.99L44.56 256.99L44.61 257.99L44.67 258.99L44.74 259.99L44.82 260.98L44.90 261.98L44.98 262.98L45.07 263.97L45.15 264.97L45.23 265.97L45.32 266.96L45.40 267.96L45.49 268.96L45.57 269.95L45.65 270.95L45.73 271.95L45.81 272.95L45.89 273.94L45.96 274.94L46.04 275.94L46.11 276.94L46.18 277.93L46.25 278.93L46.31 279.93L46.38 280.93L46.45 281.93L46.52 282.92L46.59 283.92L46.66 284.92L46.73 285.92L46.79 286.92L46.86 287.91L46.93 288.91L47.00 289.91L47.07 290.91L47.14 291.91L47.21 292.90L47.28 293.90L47.36 294.90L47.44 295.90L47.52 296.89L47.61 297.89L47.71 298.89L47.81 299.88L47.91 300.88L48.02 301.87L48.12 302.86L48.23 303.86L48.33 304.85L48.44 305.85L48.55 306.84L48.65 307.84L48.76 308.83L48.86 309.83L48.97 310.82L49.08 311.82L49.19 312.81L49.29 313.81L49.41 314.80L49.53 315.79L49.65 316.79L49.78 317.78L49.91 318.77L50.05 319.76L50.19 320.75L50.34 321.74L50.48 322.73L50.63 323.72L50.77 324.71L50.92 325.70L51.06 326.69L51.21 327.68L51.35 328.67L51.50 329.66L51.64 330.65L51.79 331.64L51.93 332.63L52.08 333.62L52.23 334.61L52.38 335.60L52.53 336.58L52.70 337.57L52.88 338.55L53.08 339.52L53.31 340.50L53.57 341.46L53.84 342.42L54.13 343.38L54.42 344.33L54.72 345.29L55.02 346.24L55.33 347.19L55.63 348.15L55.94 349.10L56.26 350.04L56.60 350.98L56.96 351.91L57.35 352.83L57.76 353.73L58.20 354.63L58.65 355.52L59.12 356.40L59.59 357.28L60.07 358.16L60.54 359.04L61.02 359.92L61.51 360.79L62.00 361.66L62.52 362.51L63.05 363.35L63.62 364.16L64.23 364.95L64.86 365.71L65.53 366.45L66.21 367.18L66.90 367.90L67.60 368.61L68.31 369.31L69.04 370.00L69.78 370.65L70.55 371.29L71.34 371.89L72.14 372.47L72.97 373.04L73.80 373.58L74.65 374.10L75.51 374.60L76.39 375.06L77.28 375.47L78.20 375.84L79.14 376.16L80.09 376.45L81.05 376.72L82.01 376.97L82.98 377.22L83.95 377.46L84.92 377.68L85.90 377.87L86.88 378.04L87.87 378.18L88.85 378.28L89.85 378.35L90.85 378.40L91.84 378.44L92.84 378.47L93.84 378.50L94.84 378.53L95.84 378.56L96.84 378.59L97.84 378.62L98.84 378.64L99.84 378.67L100.84 378.70L101.84 378.72L102.84 378.75L103.84 378.77L104.84 378.78L105.84 378.79L106.84 378.80L107.84 378.81L108.84 378.81L109.84 378.81L110.84 378.81L111.85 378.81L112.85 378.81L113.85 378.81L114.85 378.81L115.85 378.81L116.85 378.81L117.85 378.81L118.85 378.82L119.85 378.82L120.85 378.84L121.85 378.87L122.84 378.91L123.84 378.97L124.84 379.05L125.83 379.13L126.83 379.23L127.83 379.33L128.82 379.43L129.81 379.53L130.81 379.64L131.80 379.75L132.79 379.88L133.78 380.02L134.77 380.17L135.76 380.33L136.74 380.50L137.73 380.69L138.71 380.88L139.68 381.08L140.66 381.30L141.62 381.55L142.58 381.82L143.53 382.12L144.48 382.44L145.41 382.78L146.35 383.14L147.28 383.50L148.21 383.88L149.13 384.25L150.06 384.64L150.98 385.03L151.90 385.42L152.81 385.82L153.73 386.22L154.65 386.62L155.56 387.03L156.47 387.45L157.38 387.86L158.28 388.29L159.19 388.72L160.09 389.15L160.99 389.59L161.89 390.02L162.79 390.46L163.69 390.88L164.60 391.30L165.52 391.71L166.44 392.09L167.36 392.45L168.30 392.79L169.24 393.11L170.19 393.38L171.15 393.61L172.11 393.77L173.08 393.86L174.04 393.86L175.01 393.78L175.96 393.62L176.90 393.38L177.81 393.05L178.70 392.65L179.55 392.18L180.38 391.65L181.19 391.08L181.96 390.47L182.71 389.82L183.42 389.14L184.09 388.42L184.73 387.66L185.34 386.88L185.94 386.08L186.52 385.27L187.10 384.45L187.67 383.63L188.25 382.82L188.82 382.00L189.40 381.18L189.98 380.36L190.55 379.54L191.13 378.72L191.70 377.90L192.27 377.09L192.85 376.27L193.42 375.45L193.99 374.63L194.57 373.81L195.14 372.99L195.71 372.16L196.28 371.34L196.86 370.52L197.43 369.70L198.00 368.88L198.58 368.07L199.15 367.25L199.74 366.43L200.32 365.63L200.92 364.82L201.52 364.02L202.12 363.23L202.74 362.43L203.35 361.64L203.96 360.86L204.58 360.07L205.20 359.28L205.81 358.49L206.43 357.71L207.05 356.92L207.68 356.14L208.32 355.37L208.97 354.62L209.63 353.87L210.31 353.14L211.00 352.41L211.70 351.70L212.40 350.99L213.11 350.28L213.81 349.57L214.52 348.87L215.23 348.16L215.94 347.45L216.64 346.74L217.34 346.03L218.04 345.31L218.73 344.59L219.41 343.85L220.09 343.12L220.76 342.37L221.42 341.63L222.09 340.88L222.75 340.13L223.41 339.38L224.07 338.63L224.74 337.88L225.40 337.14L226.07 336.39L226.75 335.66L227.43 334.93L228.14 334.23L228.86 333.54L229.60 332.88L230.36 332.23L231.13 331.60L231.92 330.98L232.70 330.36L233.49 329.75L234.28 329.13L235.08 328.52L235.87 327.92L236.67 327.32L237.48 326.73L238.29 326.14L239.10 325.56L239.92 324.98L240.74 324.40L241.55 323.83L242.37 323.25L243.19 322.68L244.01 322.11L244.83 321.53L245.65 320.96L246.47 320.38L247.29 319.81L248.11 319.23L248.92 318.65L249.74 318.07L250.55 317.49L251.36 316.91L252.17 316.32L252.98 315.73L253.79 315.14L254.60 314.55L255.41 313.96L256.22 313.38L257.02 312.79L257.83 312.20L258.64 311.61L259.45 311.01L260.25 310.42L261.06 309.83L261.87 309.24L262.67 308.65L263.47 308.05L264.28 307.45L265.08 306.85L265.88 306.25L266.68 305.65L267.48 305.05L268.28 304.45L269.08 303.85L269.88 303.25L270.68 302.65L271.48 302.05L272.28 301.45L273.08 300.85L273.88 300.25L274.68 299.65L275.48 299.05L276.28 298.45L277.09 297.85L277.89 297.26L278.70 296.67L279.51 296.08L280.32 295.49L281.12 294.90L281.93 294.32L282.74 293.73L283.55 293.14L284.36 292.56L285.18 291.97L285.99 291.38L286.80 290.79L287.61 290.21L288.42 289.62L289.23 289.03L290.04 288.45L290.85 287.86L291.66 287.28L292.47 286.69L293.29 286.11L294.10 285.53L294.91 284.95L295.73 284.37L296.55 283.79L297.36 283.21L298.18 282.63L298.99 282.05L299.81 281.47L300.62 280.89L301.44 280.31L302.25 279.73L303.07 279.15L303.88 278.57L304.70 277.99L305.51 277.42L306.33 276.84L307.15 276.26L307.96 275.68L308.78 275.10L309.59 274.52L310.41 273.95L311.23 273.37L312.05 272.80L312.87 272.22L313.69 271.64L314.50 271.07L315.32 270.49L316.14 269.92L316.96 269.34L317.78 268.77L318.60 268.19L319.41 267.62L320.23 267.04L321.05 266.47L321.87 265.89L322.69 265.32L323.51 264.74L324.33 264.17L325.14 263.59L325.96 263.02L326.78 262.44L327.60 261.87" stroke="#f00" stroke-width="1.85" stroke-dasharray="6.7 2.4"/>
<path d="M41.11 224.68L41.11 362.66L41.11 362.66L41.27 363.65L41.43 364.64L41.60 365.63L41.76 366.61L41.92 367.60L42.08 368.59L42.25 369.58L42.41 370.56L42.56 371.55L42.72 372.54L42.87 373.53L43.02 374.52L43.17 375.51L43.31 376.50L43.46 377.49L43.60 378.48L43.75 379.47L43.89 380.46L44.04 381.45L44.19 382.44L44.34 383.43L44.51 384.41L44.70 385.39L44.91 386.37L45.15 387.33L45.42 388.29L45.71 389.25L46.03 390.19L46.38 391.12L46.75 392.04L47.17 392.94L47.63 393.81L48.14 394.65L48.70 395.46L49.30 396.25L49.93 397.01L50.59 397.75L51.28 398.46L52.00 399.12L52.77 399.73L53.57 400.29L54.41 400.81L55.28 401.29L56.16 401.75L57.06 402.18L57.96 402.59L58.88 402.96L59.81 403.30L60.76 403.58L61.72 403.82L62.69 404.01L63.67 404.17L64.66 404.32L65.65 404.45L66.64 404.59L67.63 404.73L68.62 404.88L69.60 405.05L70.58 405.24L71.56 405.45L72.53 405.67L73.50 405.91L74.48 406.15L75.44 406.40L76.41 406.65L77.38 406.90L78.35 407.15L79.32 407.39L80.29 407.64L81.26 407.89L82.23 408.13L83.20 408.37L84.18 408.61L85.15 408.85L86.12 409.09L87.09 409.34L88.06 409.58L89.03 409.83L89.99 410.09L90.96 410.36L91.92 410.65L92.87 410.94L93.83 411.24L94.78 411.54L95.73 411.84L96.69 412.13L97.65 412.41L98.61 412.68L99.58 412.92L100.55 413.14L101.52 413.33L102.48 413.47L103.44 413.53L104.40 413.50L105.34 413.37L106.27 413.14L107.18 412.83L108.08 412.44L108.95 411.99L109.81 411.49L110.63 410.95L111.44 410.37L112.24 409.77L113.02 409.15L113.80 408.52L114.57 407.89L115.34 407.25L116.10 406.60L116.85 405.93L117.59 405.26L118.32 404.58L119.04 403.89L119.76 403.20L120.48 402.50L121.20 401.80L121.92 401.11L122.65 400.42L123.38 399.74L124.12 399.06L124.86 398.40L125.61 397.74L126.37 397.08L127.13 396.43L127.89 395.78L128.66 395.14L129.43 394.50L130.21 393.87L130.99 393.25L131.79 392.65L132.59 392.05L133.39 391.45L134.20 390.87L135.02 390.28L135.83 389.70L136.64 389.11L137.45 388.53L138.27 387.95L139.08 387.36L139.89 386.78L140.71 386.20L141.52 385.61L142.33 385.03L143.15 384.45L143.96 383.86L144.77 383.28L145.59 382.70L146.40 382.12L147.22 381.54L148.04 380.96L148.86 380.40L149.70 379.84L150.54 379.30L151.38 378.77L152.24 378.25L153.09 377.73L153.95 377.22L154.82 376.71L155.68 376.21L156.54 375.70L157.40 375.19L158.27 374.68L159.13 374.18L159.99 373.67L160.85 373.16L161.72 372.65L162.58 372.14L163.44 371.64L164.30 371.13L165.17 370.62L166.03 370.11L166.89 369.61L167.75 369.10L168.62 368.59L169.48 368.08L170.34 367.57L171.20 367.06L172.06 366.55L172.92 366.04L173.79 365.54L174.65 365.03L175.51 364.52L176.37 364.01L177.23 363.50L178.09 362.99L178.96 362.48L179.82 361.97L180.68 361.46L181.54 360.95L182.40 360.44L183.26 359.93L184.12 359.42L184.99 358.91L185.85 358.40L186.71 357.89L187.57 357.38L188.43 356.87L189.29 356.35L190.14 355.84L191.00 355.32L191.86 354.80L192.71 354.28L193.57 353.76L194.42 353.24L195.28 352.72L196.13 352.20L196.98 351.68L197.84 351.16L198.69 350.64L199.55 350.12L200.40 349.59L201.26 349.07L202.11 348.55L202.97 348.03L203.82 347.51L204.68 346.99L205.53 346.47L206.39 345.95L207.24 345.43L208.10 344.91L208.95 344.39L209.80 343.87L210.66 343.34L211.51 342.82L212.37 342.30L213.22 341.78L214.08 341.26L214.93 340.74L215.79 340.22L216.64 339.69L217.49 339.16L218.33 338.63L219.18 338.09L220.02 337.55L220.85 337.00L221.69 336.45L222.52 335.89L223.35 335.33L224.18 334.78L225.01 334.22L225.85 333.66L226.68 333.10L227.51 332.55L228.34 331.99L229.17 331.43L230.00 330.87L230.83 330.32L231.66 329.76L232.49 329.20L233.33 328.64L234.16 328.09L234.99 327.53L235.82 326.97L236.65 326.41L237.48 325.86L238.31 325.30L239.14 324.74L239.98 324.18L240.81 323.63L241.64 323.07L242.47 322.51L243.30 321.95L244.13 321.40L244.96 320.84L245.79 320.28L246.62 319.72L247.45 319.16L248.28 318.60L249.11 318.03L249.93 317.47L250.76 316.90L251.58 316.34L252.41 315.77L253.23 315.20L254.06 314.64L254.88 314.07L255.71 313.50L256.53 312.94L257.36 312.37L258.18 311.80L259.01 311.23L259.83 310.67L260.66 310.10L261.48 309.53L262.31 308.97L263.13 308.40L263.96 307.83L264.78 307.27L265.60 306.70L266.43 306.13L267.25 305.56L268.08 305.00L268.90 304.43L269.73 303.86L270.55 303.30L271.38 302.73L272.20 302.16L273.03 301.60L273.85 301.03L274.68 300.46L275.50 299.89L276.32 299.33L277.15 298.76L277.97 298.19L278.80 297.62L279.62 297.05L280.44 296.48L281.26 295.91L282.09 295.34L282.91 294.77L283.73 294.20L284.55 293.63L285.38 293.06L286.20 292.49L287.02 291.92L287.84 291.35L288.67 290.78L289.49 290.21L290.31 289.64L291.13 289.07L291.96 288.50L292.78 287.93L293.60 287.36L294.43 286.79L295.25 286.22L296.07 285.65L296.89 285.08L297.72 284.51L298.54 283.94L299.36 283.37L300.18 282.80L301.01 282.23L301.83 281.66L302.65 281.09L303.47 280.52L304.30 279.94L305.12 279.37L305.94 278.80L306.76 278.23L307.58 277.65L308.39 277.07L309.21 276.50L310.03 275.92L310.85 275.34L311.66 274.77L312.48 274.19L313.30 273.61L314.12 273.03L314.93 272.45L315.75 271.88L316.57 271.30L317.39 270.72L318.20 270.14L319.02 269.56L319.84 268.99L320.65 268.41L321.47 267.83L322.29 267.25L323.11 266.68L323.92 266.10L324.74 265.52L325.56 264.94L326.37 264.36L327.19 263.79L327.60 263.50" stroke="#000" stroke-width="2" stroke-dasharray="6 2.7 1.4 2.7"/>
<path d="M41.11 224.68L41.11 407.84L41.11 407.84L41.79 408.57L42.47 409.30L43.16 410.03L43.85 410.74L44.56 411.43L45.29 412.07L46.06 412.66L46.87 413.17L47.73 413.60L48.63 413.97L49.56 414.28L50.50 414.56L51.47 414.82L52.44 415.06L53.41 415.28L54.38 415.49L55.36 415.68L56.35 415.84L57.34 415.98L58.33 416.11L59.32 416.22L60.31 416.33L61.31 416.44L62.30 416.54L63.30 416.63L64.29 416.72L65.29 416.80L66.28 416.86L67.27 416.88L68.26 416.85L69.25 416.79L70.24 416.68L71.22 416.54L72.21 416.38L73.19 416.20L74.17 416.01L75.15 415.81L76.12 415.59L77.09 415.36L78.06 415.10L79.02 414.82L79.97 414.53L80.93 414.23L81.88 413.92L82.83 413.61L83.77 413.29L84.72 412.96L85.66 412.63L86.60 412.29L87.54 411.94L88.48 411.59L89.41 411.24L90.34 410.87L91.27 410.50L92.18 410.10L93.10 409.69L94.00 409.27L94.90 408.84L95.80 408.39L96.69 407.95L97.59 407.50L98.48 407.05L99.38 406.60L100.27 406.16L101.16 405.71L102.06 405.26L102.95 404.81L103.85 404.36L104.74 403.92L105.64 403.47L106.53 403.03L107.43 402.58L108.33 402.14L109.22 401.69L110.12 401.25L111.01 400.81L111.91 400.36L112.81 399.92L113.70 399.48L114.60 399.03L115.50 398.59L116.39 398.14L117.29 397.70L118.19 397.25L119.08 396.81L119.98 396.36L120.87 395.92L121.77 395.47L122.66 395.03L123.56 394.58L124.45 394.14L125.35 393.69L126.24 393.24L127.14 392.79L128.03 392.34L128.92 391.89L129.81 391.43L130.70 390.98L131.59 390.52L132.48 390.06L133.37 389.60L134.25 389.13L135.14 388.67L136.03 388.21L136.92 387.75L137.80 387.29L138.69 386.82L139.57 386.35L140.45 385.88L141.33 385.40L142.20 384.91L143.08 384.43L143.95 383.94L144.82 383.45L145.69 382.96L146.56 382.46L147.43 381.97L148.30 381.48L149.17 380.98L150.04 380.48L150.91 379.98L151.77 379.48L152.63 378.97L153.50 378.47L154.36 377.96L155.22 377.45L156.08 376.95L156.95 376.44L157.81 375.93L158.67 375.42L159.53 374.92L160.39 374.41L161.26 373.90L162.12 373.40L162.98 372.89L163.84 372.38L164.70 371.87L165.56 371.36L166.43 370.86L167.29 370.35L168.15 369.83L169.00 369.32L169.86 368.81L170.72 368.29L171.57 367.77L172.43 367.25L173.28 366.73L174.14 366.21L174.99 365.70L175.85 365.18L176.70 364.66L177.56 364.14L178.41 363.62L179.27 363.10L180.12 362.58L180.98 362.06L181.84 361.54L182.69 361.02L183.55 360.51L184.40 359.99L185.26 359.47L186.11 358.95L186.96 358.43L187.82 357.91L188.67 357.39L189.53 356.87L190.38 356.34L191.23 355.82L192.09 355.30L192.94 354.77L193.79 354.25L194.64 353.73L195.49 353.20L196.35 352.68L197.20 352.16L198.05 351.63L198.90 351.11L199.75 350.58L200.61 350.06L201.46 349.54L202.31 349.01L203.16 348.49L204.01 347.96L204.87 347.44L205.72 346.92L206.57 346.39L207.42 345.87L208.28 345.34L209.13 344.82L209.98 344.30L210.83 343.77L211.68 343.25L212.54 342.73L213.39 342.20L214.24 341.68L215.09 341.15L215.94 340.63L216.79 340.10L217.64 339.57L218.48 339.03L219.32 338.49L220.16 337.94L221.00 337.39L221.83 336.84L222.66 336.28L223.49 335.73L224.32 335.17L225.15 334.61L225.98 334.06L226.82 333.50L227.65 332.94L228.48 332.39L229.31 331.83L230.14 331.27L230.97 330.71L231.80 330.16L232.63 329.60L233.46 329.04L234.29 328.49L235.12 327.93L235.95 327.37L236.78 326.81L237.61 326.26L238.45 325.70L239.28 325.14L240.11 324.58L240.94 324.03L241.77 323.47L242.60 322.91L243.43 322.36L244.26 321.80L245.09 321.24L245.92 320.68L246.75 320.12L247.58 319.57L248.41 319.01L249.24 318.44L250.06 317.88L250.89 317.32L251.72 316.76L252.54 316.19L253.37 315.63L254.20 315.07L255.02 314.50L255.85 313.94L256.68 313.37L257.50 312.81L258.33 312.25L259.15 311.68L259.98 311.12L260.81 310.56L261.63 309.99L262.46 309.43L263.29 308.87L264.11 308.30L264.94 307.74L265.77 307.18L266.59 306.61L267.42 306.05L268.24 305.49L269.07 304.92L269.90 304.36L270.72 303.79L271.55 303.23L272.38 302.67L273.20 302.10L274.03 301.54L274.85 300.98L275.68 300.41L276.50 299.84L277.33 299.27L278.15 298.70L278.97 298.13L279.79 297.56L280.60 296.98L281.42 296.40L282.24 295.83L283.06 295.25L283.88 294.68L284.69 294.10L285.51 293.52L286.33 292.95L287.15 292.37L287.97 291.80L288.78 291.22L289.60 290.65L290.42 290.07L291.24 289.49L292.05 288.92L292.87 288.34L293.69 287.77L294.51 287.19L295.33 286.61L296.14 286.04L296.96 285.46L297.78 284.89L298.60 284.31L299.41 283.73L300.23 283.16L301.05 282.58L301.87 282.01L302.69 281.43L303.50 280.85L304.32 280.28L305.14 279.70L305.96 279.13L306.77 278.55L307.59 277.97L308.41 277.39L309.22 276.82L310.04 276.24L310.86 275.66L311.67 275.08L312.49 274.51L313.31 273.93L314.12 273.35L314.94 272.77L315.76 272.20L316.57 271.62L317.39 271.04L318.21 270.46L319.02 269.89L319.84 269.31L320.66 268.73L321.47 268.16L322.29 267.58L323.11 267.00L323.92 266.42L324.74 265.85L325.56 265.27L326.37 264.69L327.19 264.11L327.60 263.82" stroke="#00f" stroke-width="1.7"/>
</g>
<path d="M35.60 437.40v-4.3M35.60 257.35v4.3M46.21 437.40v-2.8M46.21 257.35v2.8M56.83 437.40v-2.8M56.83 257.35v2.8M67.44 437.40v-2.8M67.44 257.35v2.8M78.06 437.40v-2.8M78.06 257.35v2.8M88.67 437.40v-4.3M88.67 257.35v4.3M99.29 437.40v-2.8M99.29 257.35v2.8M109.90 437.40v-2.8M109.90 257.35v2.8M120.52 437.40v-2.8M120.52 257.35v2.8M131.13 437.40v-2.8M131.13 257.35v2.8M141.75 437.40v-4.3M141.75 257.35v4.3M152.36 437.40v-2.8M152.36 257.35v2.8M162.97 437.40v-2.8M162.97 257.35v2.8M173.59 437.40v-2.8M173.59 257.35v2.8M184.20 437.40v-2.8M184.20 257.35v2.8M194.82 437.40v-4.3M194.82 257.35v4.3M205.43 437.40v-2.8M205.43 257.35v2.8M216.05 437.40v-2.8M216.05 257.35v2.8M226.66 437.40v-2.8M226.66 257.35v2.8M237.28 437.40v-2.8M237.28 257.35v2.8M247.89 437.40v-4.3M247.89 257.35v4.3M258.51 437.40v-2.8M258.51 257.35v2.8M269.12 437.40v-2.8M269.12 257.35v2.8M279.73 437.40v-2.8M279.73 257.35v2.8M290.35 437.40v-2.8M290.35 257.35v2.8M300.96 437.40v-4.3M300.96 257.35v4.3M311.58 437.40v-2.8M311.58 257.35v2.8M322.19 437.40v-2.8M322.19 257.35v2.8M35.60 433.97h2.8M327.50 433.97h-2.8M35.60 427.42h2.8M327.50 427.42h-2.8M35.60 420.88h4.3M327.50 420.88h-4.3M35.60 414.34h2.8M327.50 414.34h-2.8M35.60 407.80h2.8M327.50 407.80h-2.8M35.60 401.26h2.8M327.50 401.26h-2.8M35.60 394.72h2.8M327.50 394.72h-2.8M35.60 388.18h4.3M327.50 388.18h-4.3M35.60 381.64h2.8M327.50 381.64h-2.8M35.60 375.09h2.8M327.50 375.09h-2.8M35.60 368.55h2.8M327.50 368.55h-2.8M35.60 362.01h2.8M327.50 362.01h-2.8M35.60 355.47h4.3M327.50 355.47h-4.3M35.60 348.93h2.8M327.50 348.93h-2.8M35.60 342.39h2.8M327.50 342.39h-2.8M35.60 335.85h2.8M327.50 335.85h-2.8M35.60 329.30h2.8M327.50 329.30h-2.8M35.60 322.76h4.3M327.50 322.76h-4.3M35.60 316.22h2.8M327.50 316.22h-2.8M35.60 309.68h2.8M327.50 309.68h-2.8M35.60 303.14h2.8M327.50 303.14h-2.8M35.60 296.60h2.8M327.50 296.60h-2.8M35.60 290.06h4.3M327.50 290.06h-4.3M35.60 283.52h2.8M327.50 283.52h-2.8M35.60 276.97h2.8M327.50 276.97h-2.8M35.60 270.43h2.8M327.50 270.43h-2.8M35.60 263.89h2.8M327.50 263.89h-2.8M35.60 257.35h4.3M327.50 257.35h-4.3" stroke="#4a4a4a" stroke-width="1" fill="none"/>
<rect x="35.60" y="257.35" width="291.90" height="180.05" fill="none" stroke="#4a4a4a" stroke-width="1"/>
<g font-family="'Liberation Sans', sans-serif" font-size="13" fill="#000">
<text x="35.60" y="452.20" text-anchor="middle">0</text>
<text x="88.67" y="452.20" text-anchor="middle">10</text>
<text x="141.75" y="452.20" text-anchor="middle">20</text>
<text x="194.82" y="452.20" text-anchor="middle">30</text>
<text x="247.89" y="452.20" text-anchor="middle">40</text>
<text x="300.96" y="452.20" text-anchor="middle">50</text>
<text x="32.90" y="424.88" text-anchor="end">0</text>
<text x="32.90" y="392.18" text-anchor="end">10</text>
<text x="32.90" y="359.47" text-anchor="end">20</text>
<text x="32.90" y="326.76" text-anchor="end">30</text>
<text x="32.90" y="294.06" text-anchor="end">40</text>
<text x="32.90" y="261.35" text-anchor="end">50</text>
</g>
<g transform="translate(9.10,363.46) rotate(-90)" font-family="'Liberation Sans', sans-serif" font-size="13.5"><text x="0" y="0">Im[</text><text transform="translate(18.78,0) scale(1.5,1)" font-family="'Liberation Serif', serif" font-style="italic" font-size="10.5">σ</text><text x="28.15" y="0">]</text></g>
<text x="170.67" y="472.40" font-family="'Liberation Serif', serif" font-style="italic" font-size="13">ω</text>
<path d="M180.10 474.30L183.90 462.90" stroke="#111" stroke-width="0.9"/>
<text x="183.99" y="472.40" font-family="'Liberation Sans', sans-serif" font-size="14">T</text>
<path d="M251.90 397.76h6.4M260.70 397.76h6.4" stroke="#f00" stroke-width="1.5" fill="none"/>
<text x="273.24" y="400.51" font-family="'Liberation Sans', sans-serif" font-size="11.8">T/T</text>
<text x="290.38" y="403.31" font-family="'Liberation Sans', sans-serif" font-size="7.7">c</text>
<text x="295.12" y="400.51" font-family="'Liberation Sans', sans-serif" font-size="11.8">=</text>
<text x="302.62" y="400.51" font-family="'Liberation Sans', sans-serif" font-size="11.1">0.3</text>
<path d="M251.90 410.24h6M260.50 410.24h1.5M264.60 410.24H270.00" stroke="#000" stroke-width="1.5" fill="none"/>
<text x="273.24" y="412.99" font-family="'Liberation Sans', sans-serif" font-size="11.8">T/T</text>
<text x="290.38" y="415.79" font-family="'Liberation Sans', sans-serif" font-size="7.7">c</text>
<text x="295.12" y="412.99" font-family="'Liberation Sans', sans-serif" font-size="11.8">=</text>
<text x="302.62" y="412.99" font-family="'Liberation Sans', sans-serif" font-size="11.1">0.6</text>
<path d="M251.90 422.60H270.00" stroke="#00f" stroke-width="1.4" fill="none"/>
<text x="273.24" y="425.35" font-family="'Liberation Sans', sans-serif" font-size="11.8">T/T</text>
<text x="290.38" y="428.15" font-family="'Liberation Sans', sans-serif" font-size="7.7">c</text>
<text x="295.12" y="425.35" font-family="'Liberation Sans', sans-serif" font-size="11.8">=</text>
<text x="302.62" y="425.35" font-family="'Liberation Sans', sans-serif" font-size="11.1">0.9</text>
<text x="136.47" y="490.90" font-family="'Liberation Serif', serif" font-size="14.3" font-weight="bold" font-style="normal">(</text>
<text x="141.71" y="490.90" font-family="'Liberation Serif', serif" font-size="14.3" font-weight="bold" font-style="normal">c</text>
<text x="148.84" y="490.90" font-family="'Liberation Serif', serif" font-size="14.3" font-weight="bold" font-style="normal">)</text>
<text x="159.14" y="490.90" font-family="'Liberation Serif', serif" font-size="12.5" font-weight="normal" font-style="italic">b</text>
<rect x="170.20" y="486.35" width="8.20" height="0.85" fill="#111"/>
<rect x="170.20" y="489.10" width="8.20" height="0.85" fill="#111"/>
<text x="183.40" y="490.90" font-family="'Liberation Serif', serif" font-size="13" font-weight="normal" font-style="normal">0</text>
<clipPath id="clipd"><rect x="388.50" y="256.95" width="292.50" height="180.95"/></clipPath>
<g clip-path="url(#clipd)" fill="none" stroke-linejoin="round">
<path d="M402.25 239.44L402.26 240.44L402.28 241.44L402.29 242.44L402.31 243.44L402.32 244.44L402.34 245.44L402.35 246.44L402.37 247.44L402.38 248.44L402.40 249.44L402.41 250.44L402.43 251.44L402.44 252.44L402.46 253.44L402.49 254.44L402.52 255.44L402.56 256.44L402.62 257.43L402.69 258.43L402.78 259.42L402.88 260.42L402.99 261.41L403.10 262.40L403.22 263.40L403.34 264.39L403.45 265.38L403.57 266.38L403.69 267.37L403.80 268.36L403.92 269.36L404.04 270.35L404.15 271.34L404.27 272.34L404.39 273.33L404.51 274.32L404.63 275.32L404.75 276.31L404.87 277.30L404.99 278.29L405.11 279.29L405.23 280.28L405.35 281.27L405.47 282.27L405.59 283.26L405.71 284.25L405.83 285.24L405.95 286.24L406.07 287.23L406.19 288.22L406.31 289.22L406.43 290.21L406.55 291.20L406.67 292.19L406.80 293.19L406.93 294.18L407.06 295.17L407.21 296.16L407.35 297.15L407.50 298.13L407.66 299.12L407.81 300.11L407.97 301.10L408.13 302.09L408.28 303.07L408.44 304.06L408.60 305.05L408.76 306.04L408.91 307.02L409.07 308.01L409.23 309.00L409.38 309.99L409.54 310.98L409.70 311.96L409.85 312.95L410.01 313.94L410.18 314.92L410.35 315.91L410.52 316.89L410.72 317.87L410.93 318.85L411.16 319.82L411.40 320.79L411.65 321.76L411.91 322.72L412.18 323.69L412.44 324.65L412.71 325.61L412.98 326.58L413.25 327.54L413.52 328.50L413.81 329.46L414.09 330.42L414.39 331.37L414.68 332.33L414.99 333.28L415.29 334.23L415.60 335.19L415.91 336.14L416.21 337.09L416.53 338.04L416.85 338.98L417.18 339.93L417.52 340.86L417.89 341.79L418.27 342.71L418.67 343.63L419.08 344.54L419.49 345.45L419.92 346.36L420.34 347.26L420.76 348.17L421.19 349.08L421.61 349.98L422.03 350.89L422.46 351.79L422.90 352.69L423.34 353.58L423.80 354.46L424.29 355.32L424.82 356.16L425.38 356.98L425.97 357.78L426.59 358.56L427.22 359.33L427.87 360.09L428.52 360.85L429.17 361.61L429.82 362.37L430.47 363.13L431.13 363.88L431.79 364.62L432.47 365.34L433.18 366.02L433.92 366.65L434.71 367.23L435.54 367.75L436.40 368.22L437.29 368.65L438.19 369.07L439.11 369.47L440.02 369.86L440.94 370.26L441.86 370.65L442.78 371.04L443.70 371.43L444.63 371.81L445.55 372.19L446.48 372.54L447.42 372.86L448.37 373.14L449.33 373.38L450.30 373.58L451.28 373.75L452.27 373.90L453.26 374.04L454.25 374.17L455.24 374.30L456.23 374.42L457.23 374.55L458.22 374.67L459.21 374.80L460.20 374.93L461.19 375.05L462.19 375.17L463.18 375.28L464.17 375.38L465.17 375.47L466.17 375.55L467.16 375.61L468.16 375.67L469.16 375.71L470.16 375.75L471.16 375.79L472.16 375.83L473.16 375.86L474.16 375.90L475.16 375.94L476.15 375.97L477.15 376.01L478.15 376.05L479.15 376.08L480.15 376.12L481.15 376.16L482.15 376.21L483.15 376.26L484.15 376.32L485.14 376.40L486.14 376.49L487.13 376.59L488.12 376.71L489.12 376.82L490.11 376.95L491.10 377.07L492.09 377.19L493.09 377.32L494.08 377.45L495.07 377.58L496.06 377.72L497.04 377.88L498.02 378.06L498.98 378.28L499.94 378.54L500.89 378.84L501.83 379.16L502.76 379.51L503.69 379.88L504.61 380.27L505.53 380.66L506.44 381.07L507.35 381.49L508.25 381.92L509.15 382.36L510.05 382.79L510.95 383.22L511.86 383.66L512.76 384.08L513.66 384.51L514.57 384.93L515.48 385.35L516.38 385.78L517.29 386.20L518.20 386.62L519.11 387.04L520.01 387.46L520.92 387.87L521.83 388.29L522.74 388.70L523.65 389.12L524.57 389.52L525.48 389.92L526.40 390.31L527.33 390.68L528.26 391.03L529.20 391.35L530.15 391.63L531.10 391.85L532.06 392.01L533.02 392.08L533.97 392.06L534.93 391.95L535.87 391.75L536.81 391.47L537.72 391.12L538.60 390.71L539.46 390.23L540.29 389.70L541.09 389.12L541.87 388.51L542.62 387.86L543.34 387.18L544.04 386.47L544.71 385.74L545.38 384.99L546.03 384.24L546.68 383.47L547.31 382.70L547.94 381.93L548.56 381.14L549.16 380.35L549.76 379.54L550.34 378.73L550.92 377.92L551.50 377.11L552.08 376.29L552.67 375.48L553.26 374.67L553.85 373.87L554.46 373.07L555.07 372.29L555.70 371.51L556.33 370.73L556.96 369.96L557.60 369.19L558.24 368.42L558.88 367.65L559.52 366.88L560.17 366.12L560.82 365.36L561.47 364.61L562.14 363.87L562.82 363.13L563.51 362.41L564.21 361.70L564.92 360.99L565.63 360.28L566.34 359.58L567.05 358.88L567.76 358.18L568.47 357.48L569.19 356.78L569.90 356.07L570.61 355.37L571.33 354.68L572.05 353.98L572.77 353.29L573.50 352.61L574.24 351.93L574.98 351.26L575.73 350.60L576.48 349.93L577.23 349.27L577.98 348.61L578.73 347.96L579.48 347.30L580.24 346.64L580.99 345.98L581.74 345.32L582.50 344.66L583.25 344.01L584.01 343.35L584.77 342.71L585.54 342.07L586.31 341.44L587.09 340.82L587.89 340.20L588.68 339.60L589.48 339.00L590.28 338.40L591.09 337.81L591.89 337.21L592.70 336.62L593.50 336.03L594.30 335.43L595.11 334.84L595.92 334.25L596.72 333.66L597.53 333.07L598.34 332.49L599.16 331.90L599.97 331.33L600.79 330.75L601.61 330.17L602.43 329.60L603.25 329.02L604.06 328.45L604.88 327.87L605.70 327.30L606.52 326.73L607.34 326.15L608.16 325.58L608.98 325.00L609.79 324.43L610.61 323.85L611.43 323.28L612.25 322.70L613.07 322.13L613.89 321.55L614.70 320.98L615.52 320.41L616.34 319.83L617.16 319.26L617.98 318.68L618.80 318.11L619.62 317.53L620.43 316.96L621.25 316.38L622.07 315.81L622.89 315.23L623.71 314.66L624.53 314.08L625.34 313.51L626.16 312.93L626.97 312.34L627.78 311.76L628.59 311.16L629.39 310.57L630.19 309.97L630.99 309.37L631.79 308.77L632.59 308.17L633.39 307.57L634.19 306.97L634.99 306.37L635.79 305.77L636.59 305.17L637.39 304.57L638.19 303.97L638.99 303.36L639.79 302.76L640.58 302.16L641.38 301.56L642.18 300.96L642.98 300.36L643.78 299.76L644.58 299.16L645.38 298.56L646.18 297.96L646.98 297.36L647.78 296.75L648.58 296.15L649.38 295.55L650.18 294.95L650.98 294.35L651.78 293.75L652.58 293.15L653.37 292.55L654.17 291.94L654.96 291.33L655.75 290.71L656.52 290.09L657.29 289.45L658.06 288.80L658.81 288.15L659.57 287.49L660.31 286.83L661.06 286.17L661.81 285.50L662.56 284.84L663.31 284.17L664.05 283.51L664.80 282.84L665.55 282.18L666.30 281.52L667.04 280.85L667.79 280.19L668.54 279.52L669.29 278.86L670.03 278.19L670.78 277.53L671.53 276.87L672.28 276.20L673.02 275.54L673.77 274.87L674.52 274.21L675.27 273.54L676.01 272.88L676.76 272.22L677.51 271.55L678.26 270.89L679.00 270.22L679.75 269.56L680.50 268.89" stroke="#f00" stroke-width="1.85" stroke-dasharray="6.7 2.4"/>
<path d="M394.30 221.48L394.30 334.63L394.30 334.63L394.36 335.63L394.43 336.62L394.49 337.62L394.55 338.62L394.61 339.62L394.68 340.62L394.74 341.62L394.80 342.62L394.86 343.61L394.93 344.61L394.99 345.61L395.05 346.61L395.12 347.61L395.19 348.60L395.26 349.60L395.34 350.60L395.42 351.60L395.52 352.59L395.63 353.58L395.74 354.58L395.85 355.57L395.97 356.57L396.09 357.56L396.21 358.55L396.33 359.55L396.45 360.54L396.56 361.53L396.68 362.53L396.80 363.52L396.92 364.51L397.04 365.50L397.16 366.50L397.29 367.49L397.41 368.48L397.54 369.47L397.68 370.47L397.82 371.45L397.97 372.44L398.13 373.43L398.29 374.42L398.46 375.40L398.62 376.39L398.79 377.38L398.96 378.36L399.13 379.35L399.29 380.34L399.47 381.32L399.65 382.30L399.83 383.28L400.04 384.26L400.27 385.23L400.52 386.20L400.79 387.16L401.07 388.12L401.37 389.07L401.67 390.03L401.98 390.98L402.29 391.93L402.59 392.88L402.90 393.83L403.21 394.78L403.53 395.73L403.86 396.67L404.21 397.60L404.59 398.51L405.02 399.39L405.51 400.24L406.05 401.05L406.64 401.85L407.26 402.62L407.91 403.38L408.57 404.13L409.23 404.87L409.91 405.60L410.60 406.31L411.31 406.99L412.06 407.61L412.85 408.19L413.68 408.70L414.55 409.16L415.44 409.58L416.35 409.98L417.27 410.37L418.20 410.74L419.13 411.12L420.05 411.49L420.98 411.86L421.92 412.21L422.85 412.56L423.80 412.88L424.75 413.18L425.71 413.45L426.67 413.69L427.65 413.92L428.62 414.13L429.60 414.34L430.58 414.54L431.56 414.75L432.54 414.95L433.52 415.16L434.49 415.37L435.47 415.59L436.44 415.81L437.41 416.05L438.38 416.30L439.35 416.55L440.32 416.81L441.28 417.08L442.24 417.34L443.21 417.61L444.17 417.88L445.14 418.14L446.10 418.40L447.07 418.66L448.04 418.92L449.01 419.16L449.98 419.41L450.95 419.64L451.92 419.88L452.89 420.11L453.87 420.34L454.84 420.57L455.81 420.79L456.79 421.00L457.76 421.19L458.74 421.35L459.71 421.46L460.69 421.50L461.67 421.48L462.65 421.39L463.63 421.25L464.60 421.07L465.56 420.84L466.50 420.56L467.41 420.23L468.30 419.83L469.16 419.36L470.00 418.85L470.82 418.29L471.63 417.71L472.43 417.11L473.23 416.52L474.03 415.91L474.82 415.31L475.62 414.70L476.41 414.09L477.20 413.48L477.99 412.86L478.77 412.24L479.55 411.61L480.32 410.97L481.10 410.34L481.87 409.71L482.64 409.07L483.41 408.43L484.19 407.80L484.96 407.16L485.73 406.53L486.50 405.89L487.28 405.26L488.05 404.62L488.82 403.99L489.60 403.36L490.38 402.73L491.17 402.12L491.96 401.51L492.77 400.93L493.59 400.36L494.42 399.80L495.25 399.25L496.09 398.71L496.94 398.17L497.78 397.63L498.62 397.09L499.47 396.56L500.31 396.02L501.16 395.48L502.00 394.95L502.85 394.41L503.69 393.87L504.53 393.34L505.38 392.80L506.22 392.27L507.07 391.73L507.92 391.20L508.76 390.67L509.61 390.14L510.47 389.62L511.32 389.10L512.18 388.58L513.03 388.06L513.89 387.55L514.75 387.03L515.60 386.51L516.46 386.00L517.32 385.48L518.17 384.96L519.03 384.45L519.89 383.93L520.74 383.41L521.60 382.90L522.45 382.38L523.31 381.85L524.16 381.33L525.01 380.80L525.86 380.27L526.71 379.74L527.55 379.21L528.40 378.68L529.25 378.15L530.10 377.62L530.94 377.09L531.79 376.56L532.64 376.02L533.48 375.49L534.33 374.96L535.17 374.42L536.01 373.87L536.84 373.32L537.66 372.75L538.47 372.17L539.27 371.57L540.06 370.96L540.85 370.34L541.63 369.72L542.41 369.09L543.19 368.46L543.97 367.83L544.75 367.21L545.53 366.58L546.31 365.95L547.08 365.32L547.86 364.69L548.64 364.07L549.42 363.44L550.20 362.81L550.98 362.18L551.76 361.56L552.54 360.93L553.31 360.30L554.09 359.67L554.87 359.04L555.65 358.42L556.43 357.79L557.21 357.16L557.99 356.53L558.77 355.90L559.54 355.28L560.32 354.65L561.10 354.02L561.88 353.39L562.66 352.76L563.44 352.14L564.22 351.51L565.00 350.88L565.78 350.26L566.56 349.63L567.34 349.01L568.12 348.39L568.91 347.77L569.70 347.16L570.50 346.55L571.30 345.95L572.09 345.35L572.89 344.74L573.69 344.14L574.49 343.54L575.29 342.94L576.09 342.34L576.89 341.74L577.69 341.14L578.49 340.54L579.29 339.94L580.09 339.33L580.89 338.73L581.69 338.13L582.49 337.53L583.29 336.93L584.09 336.33L584.89 335.73L585.69 335.13L586.49 334.53L587.29 333.92L588.09 333.32L588.89 332.72L589.69 332.12L590.48 331.52L591.28 330.92L592.08 330.32L592.88 329.72L593.68 329.12L594.48 328.52L595.28 327.91L596.08 327.31L596.88 326.71L597.68 326.11L598.48 325.50L599.27 324.90L600.07 324.29L600.86 323.69L601.66 323.08L602.46 322.47L603.25 321.87L604.05 321.26L604.84 320.65L605.64 320.05L606.43 319.44L607.23 318.83L608.02 318.23L608.82 317.62L609.61 317.01L610.41 316.41L611.21 315.80L612.00 315.19L612.80 314.59L613.59 313.98L614.39 313.38L615.18 312.77L615.98 312.16L616.77 311.56L617.57 310.95L618.37 310.34L619.16 309.74L619.96 309.13L620.75 308.52L621.55 307.92L622.34 307.31L623.14 306.70L623.93 306.10L624.73 305.49L625.52 304.88L626.32 304.28L627.12 303.67L627.91 303.06L628.71 302.46L629.50 301.85L630.30 301.24L631.09 300.63L631.89 300.03L632.68 299.42L633.48 298.81L634.27 298.21L635.07 297.60L635.86 296.99L636.65 296.38L637.45 295.78L638.24 295.17L639.04 294.56L639.83 293.95L640.63 293.35L641.42 292.74L642.22 292.13L643.01 291.52L643.81 290.92L644.60 290.31L645.40 289.70L646.19 289.10L646.99 288.49L647.78 287.88L648.58 287.27L649.37 286.67L650.17 286.06L650.96 285.45L651.76 284.84L652.55 284.24L653.35 283.63L654.14 283.02L654.94 282.42L655.73 281.81L656.53 281.21L657.33 280.60L658.13 280.00L658.92 279.40L659.72 278.79L660.52 278.19L661.32 277.59L662.12 276.99L662.92 276.39L663.72 275.78L664.52 275.18L665.32 274.58L666.12 273.98L666.92 273.38L667.71 272.78L668.51 272.17L669.31 271.57L670.11 270.97L670.91 270.37L671.71 269.77L672.51 269.16L673.31 268.56L674.11 267.96L674.91 267.36L675.71 266.76L676.50 266.16L677.30 265.55L678.10 264.95L678.90 264.35L679.70 263.75L680.50 263.15" stroke="#000" stroke-width="2" stroke-dasharray="6 2.7 1.4 2.7"/>
<path d="M394.30 221.48L394.30 409.70L394.30 409.70L394.65 410.64L395.01 411.57L395.36 412.51L395.71 413.45L396.07 414.38L396.42 415.32L396.78 416.26L397.14 417.19L397.51 418.11L397.90 419.02L398.33 419.90L398.81 420.73L399.37 421.50L400.00 422.22L400.70 422.87L401.46 423.48L402.27 424.03L403.11 424.54L403.97 425.00L404.87 425.41L405.79 425.74L406.73 426.02L407.69 426.25L408.66 426.45L409.65 426.61L410.63 426.75L411.62 426.87L412.62 426.97L413.62 427.04L414.61 427.09L415.61 427.13L416.61 427.16L417.61 427.18L418.61 427.20L419.62 427.21L420.62 427.22L421.62 427.22L422.62 427.21L423.61 427.18L424.61 427.12L425.60 427.04L426.60 426.93L427.59 426.80L428.58 426.66L429.57 426.51L430.56 426.36L431.55 426.20L432.53 426.04L433.52 425.88L434.51 425.71L435.49 425.53L436.47 425.34L437.45 425.13L438.42 424.90L439.39 424.66L440.36 424.41L441.33 424.15L442.30 423.90L443.27 423.64L444.23 423.37L445.20 423.10L446.16 422.82L447.11 422.53L448.06 422.22L449.00 421.88L449.93 421.52L450.86 421.14L451.78 420.75L452.69 420.35L453.61 419.95L454.53 419.55L455.44 419.14L456.36 418.74L457.27 418.33L458.19 417.92L459.10 417.51L460.01 417.09L460.91 416.66L461.82 416.23L462.72 415.79L463.61 415.35L464.51 414.90L465.41 414.45L466.30 414.00L467.20 413.56L468.09 413.11L468.99 412.66L469.88 412.20L470.77 411.75L471.66 411.28L472.54 410.81L473.42 410.33L474.29 409.84L475.16 409.34L476.02 408.84L476.89 408.33L477.75 407.83L478.61 407.32L479.48 406.81L480.34 406.30L481.20 405.79L482.06 405.28L482.93 404.78L483.79 404.27L484.65 403.76L485.51 403.25L486.38 402.74L487.24 402.23L488.10 401.72L488.96 401.22L489.83 400.71L490.69 400.20L491.55 399.69L492.42 399.18L493.28 398.67L494.14 398.17L495.00 397.66L495.87 397.15L496.73 396.64L497.59 396.13L498.45 395.62L499.32 395.12L500.18 394.61L501.04 394.10L501.90 393.59L502.77 393.08L503.63 392.57L504.49 392.06L505.35 391.56L506.21 391.04L507.07 390.53L507.93 390.00L508.77 389.47L509.61 388.93L510.45 388.38L511.27 387.81L512.10 387.25L512.92 386.67L513.74 386.09L514.55 385.52L515.37 384.94L516.19 384.36L517.01 383.78L517.83 383.20L518.64 382.63L519.46 382.05L520.28 381.47L521.10 380.90L521.92 380.32L522.74 379.75L523.56 379.17L524.38 378.60L525.20 378.02L526.02 377.45L526.84 376.88L527.66 376.31L528.48 375.73L529.31 375.16L530.13 374.59L530.95 374.01L531.77 373.44L532.59 372.87L533.41 372.30L534.23 371.72L535.05 371.15L535.87 370.58L536.69 370.00L537.51 369.43L538.33 368.85L539.15 368.27L539.96 367.68L540.77 367.10L541.58 366.50L542.39 365.91L543.19 365.32L544.00 364.72L544.80 364.13L545.61 363.53L546.41 362.94L547.22 362.34L548.02 361.75L548.83 361.15L549.63 360.56L550.44 359.96L551.24 359.37L552.05 358.77L552.85 358.17L553.66 357.58L554.46 356.98L555.27 356.39L556.08 355.79L556.88 355.20L557.69 354.60L558.49 354.01L559.30 353.41L560.10 352.82L560.91 352.22L561.71 351.63L562.52 351.03L563.32 350.44L564.13 349.84L564.93 349.25L565.74 348.65L566.54 348.06L567.35 347.46L568.16 346.87L568.96 346.28L569.77 345.69L570.58 345.10L571.39 344.51L572.20 343.92L573.01 343.33L573.82 342.74L574.63 342.15L575.44 341.56L576.25 340.97L577.06 340.38L577.87 339.79L578.68 339.21L579.49 338.62L580.30 338.03L581.11 337.44L581.92 336.85L582.73 336.26L583.54 335.67L584.35 335.08L585.16 334.50L585.97 333.91L586.78 333.32L587.59 332.73L588.40 332.14L589.21 331.55L590.02 330.96L590.83 330.37L591.64 329.78L592.45 329.20L593.26 328.61L594.07 328.02L594.88 327.43L595.68 326.84L596.49 326.25L597.30 325.66L598.11 325.07L598.92 324.47L599.72 323.88L600.53 323.29L601.34 322.69L602.14 322.10L602.95 321.50L603.75 320.91L604.56 320.31L605.36 319.72L606.17 319.12L606.98 318.53L607.78 317.94L608.59 317.34L609.39 316.75L610.20 316.15L611.00 315.56L611.81 314.96L612.61 314.37L613.42 313.77L614.23 313.18L615.03 312.58L615.84 311.99L616.64 311.39L617.45 310.80L618.25 310.20L619.06 309.61L619.86 309.01L620.67 308.42L621.48 307.83L622.28 307.23L623.09 306.64L623.89 306.04L624.70 305.45L625.50 304.85L626.31 304.26L627.11 303.66L627.92 303.07L628.72 302.47L629.53 301.88L630.34 301.28L631.14 300.69L631.95 300.09L632.75 299.50L633.56 298.90L634.36 298.30L635.17 297.71L635.97 297.11L636.78 296.52L637.58 295.92L638.39 295.33L639.19 294.73L640.00 294.14L640.80 293.54L641.61 292.95L642.41 292.35L643.22 291.76L644.02 291.16L644.83 290.57L645.63 289.97L646.44 289.38L647.24 288.78L648.05 288.19L648.85 287.59L649.66 286.99L650.46 286.40L651.27 285.80L652.07 285.21L652.88 284.61L653.68 284.02L654.49 283.42L655.29 282.82L656.10 282.23L656.90 281.63L657.70 281.03L658.50 280.43L659.30 279.83L660.10 279.23L660.90 278.62L661.70 278.02L662.50 277.42L663.30 276.82L664.10 276.21L664.90 275.61L665.70 275.01L666.50 274.41L667.30 273.80L668.10 273.20L668.90 272.60L669.70 272.00L670.50 271.39L671.30 270.79L672.10 270.19L672.90 269.59L673.70 268.99L674.50 268.38L675.30 267.78L676.10 267.18L676.90 266.58L677.70 265.97L678.50 265.37L679.30 264.77L680.10 264.17L680.50 263.87" stroke="#00f" stroke-width="1.7"/>
</g>
<path d="M389.00 437.40v-4.3M389.00 257.45v4.3M399.60 437.40v-2.8M399.60 257.45v2.8M410.20 437.40v-2.8M410.20 257.45v2.8M420.80 437.40v-2.8M420.80 257.45v2.8M431.40 437.40v-2.8M431.40 257.45v2.8M442.00 437.40v-4.3M442.00 257.45v4.3M452.60 437.40v-2.8M452.60 257.45v2.8M463.20 437.40v-2.8M463.20 257.45v2.8M473.80 437.40v-2.8M473.80 257.45v2.8M484.40 437.40v-2.8M484.40 257.45v2.8M495.00 437.40v-4.3M495.00 257.45v4.3M505.60 437.40v-2.8M505.60 257.45v2.8M516.20 437.40v-2.8M516.20 257.45v2.8M526.80 437.40v-2.8M526.80 257.45v2.8M537.40 437.40v-2.8M537.40 257.45v2.8M548.00 437.40v-4.3M548.00 257.45v4.3M558.60 437.40v-2.8M558.60 257.45v2.8M569.20 437.40v-2.8M569.20 257.45v2.8M579.80 437.40v-2.8M579.80 257.45v2.8M590.40 437.40v-2.8M590.40 257.45v2.8M601.00 437.40v-4.3M601.00 257.45v4.3M611.60 437.40v-2.8M611.60 257.45v2.8M622.20 437.40v-2.8M622.20 257.45v2.8M632.80 437.40v-2.8M632.80 257.45v2.8M643.40 437.40v-2.8M643.40 257.45v2.8M654.00 437.40v-4.3M654.00 257.45v4.3M664.60 437.40v-2.8M664.60 257.45v2.8M675.20 437.40v-2.8M675.20 257.45v2.8M389.00 437.40h4.3M680.50 437.40h-4.3M389.00 430.20h2.8M680.50 430.20h-2.8M389.00 423.00h2.8M680.50 423.00h-2.8M389.00 415.81h2.8M680.50 415.81h-2.8M389.00 408.61h2.8M680.50 408.61h-2.8M389.00 401.41h4.3M680.50 401.41h-4.3M389.00 394.21h2.8M680.50 394.21h-2.8M389.00 387.01h2.8M680.50 387.01h-2.8M389.00 379.82h2.8M680.50 379.82h-2.8M389.00 372.62h2.8M680.50 372.62h-2.8M389.00 365.42h4.3M680.50 365.42h-4.3M389.00 358.22h2.8M680.50 358.22h-2.8M389.00 351.02h2.8M680.50 351.02h-2.8M389.00 343.83h2.8M680.50 343.83h-2.8M389.00 336.63h2.8M680.50 336.63h-2.8M389.00 329.43h4.3M680.50 329.43h-4.3M389.00 322.23h2.8M680.50 322.23h-2.8M389.00 315.03h2.8M680.50 315.03h-2.8M389.00 307.84h2.8M680.50 307.84h-2.8M389.00 300.64h2.8M680.50 300.64h-2.8M389.00 293.44h4.3M680.50 293.44h-4.3M389.00 286.24h2.8M680.50 286.24h-2.8M389.00 279.04h2.8M680.50 279.04h-2.8M389.00 271.85h2.8M680.50 271.85h-2.8M389.00 264.65h2.8M680.50 264.65h-2.8M389.00 257.45h4.3M680.50 257.45h-4.3" stroke="#4a4a4a" stroke-width="1" fill="none"/>
<rect x="389.00" y="257.45" width="291.50" height="179.95" fill="none" stroke="#4a4a4a" stroke-width="1"/>
<g font-family="'Liberation Sans', sans-serif" font-size="13" fill="#000">
<text x="389.00" y="452.20" text-anchor="middle">0</text>
<text x="442.00" y="452.20" text-anchor="middle">10</text>
<text x="495.00" y="452.20" text-anchor="middle">20</text>
<text x="548.00" y="452.20" text-anchor="middle">30</text>
<text x="601.00" y="452.20" text-anchor="middle">40</text>
<text x="654.00" y="452.20" text-anchor="middle">50</text>
<text x="386.30" y="441.40" text-anchor="end">0</text>
<text x="386.30" y="405.41" text-anchor="end">10</text>
<text x="386.30" y="369.42" text-anchor="end">20</text>
<text x="386.30" y="333.43" text-anchor="end">30</text>
<text x="386.30" y="297.44" text-anchor="end">40</text>
<text x="386.30" y="261.45" text-anchor="end">50</text>
</g>
<g transform="translate(362.50,363.51) rotate(-90)" font-family="'Liberation Sans', sans-serif" font-size="13.5"><text x="0" y="0">Im[</text><text transform="translate(18.78,0) scale(1.5,1)" font-family="'Liberation Serif', serif" font-style="italic" font-size="10.5">σ</text><text x="28.15" y="0">]</text></g>
<text x="523.87" y="472.40" font-family="'Liberation Serif', serif" font-style="italic" font-size="13">ω</text>
<path d="M533.30 474.30L537.10 462.90" stroke="#111" stroke-width="0.9"/>
<text x="537.19" y="472.40" font-family="'Liberation Sans', sans-serif" font-size="14">T</text>
<path d="M607.50 400.20h6.4M616.30 400.20h6.4" stroke="#f00" stroke-width="1.5" fill="none"/>
<text x="628.94" y="402.95" font-family="'Liberation Sans', sans-serif" font-size="11.8">T/T</text>
<text x="646.08" y="405.75" font-family="'Liberation Sans', sans-serif" font-size="7.7">c</text>
<text x="650.82" y="402.95" font-family="'Liberation Sans', sans-serif" font-size="11.8">=</text>
<text x="658.32" y="402.95" font-family="'Liberation Sans', sans-serif" font-size="11.1">0.3</text>
<path d="M607.50 412.75h6M616.10 412.75h1.5M620.20 412.75H625.50" stroke="#000" stroke-width="1.5" fill="none"/>
<text x="628.94" y="415.50" font-family="'Liberation Sans', sans-serif" font-size="11.8">T/T</text>
<text x="646.08" y="418.30" font-family="'Liberation Sans', sans-serif" font-size="7.7">c</text>
<text x="650.82" y="415.50" font-family="'Liberation Sans', sans-serif" font-size="11.8">=</text>
<text x="658.32" y="415.50" font-family="'Liberation Sans', sans-serif" font-size="11.1">0.6</text>
<path d="M607.50 425.00H625.50" stroke="#00f" stroke-width="1.4" fill="none"/>
<text x="628.94" y="427.75" font-family="'Liberation Sans', sans-serif" font-size="11.8">T/T</text>
<text x="646.08" y="430.55" font-family="'Liberation Sans', sans-serif" font-size="7.7">c</text>
<text x="650.82" y="427.75" font-family="'Liberation Sans', sans-serif" font-size="11.8">=</text>
<text x="658.32" y="427.75" font-family="'Liberation Sans', sans-serif" font-size="11.1">0.9</text>
<text x="481.17" y="490.90" font-family="'Liberation Serif', serif" font-size="14.3" font-weight="bold" font-style="normal">(</text>
<text x="486.02" y="490.90" font-family="'Liberation Serif', serif" font-size="14.3" font-weight="bold" font-style="normal">d</text>
<text x="495.64" y="490.90" font-family="'Liberation Serif', serif" font-size="14.3" font-weight="bold" font-style="normal">)</text>
<text x="504.34" y="490.90" font-family="'Liberation Serif', serif" font-size="12.5" font-weight="normal" font-style="italic">b</text>
<rect x="515.30" y="486.35" width="8.60" height="0.85" fill="#111"/>
<rect x="515.30" y="489.10" width="8.60" height="0.85" fill="#111"/>
<text x="528.30" y="490.90" font-family="'Liberation Serif', serif" font-size="13" font-weight="normal" font-style="normal">0</text>
<text x="535.24" y="490.90" font-family="'Liberation Serif', serif" font-size="13" font-weight="normal" font-style="normal">.</text>
<text x="539.10" y="490.90" font-family="'Liberation Serif', serif" font-size="13" font-weight="normal" font-style="normal">0</text>
<text x="545.85" y="490.90" font-family="'Liberation Serif', serif" font-size="13" font-weight="normal" font-style="normal">4</text>
</svg>
</body></html>
